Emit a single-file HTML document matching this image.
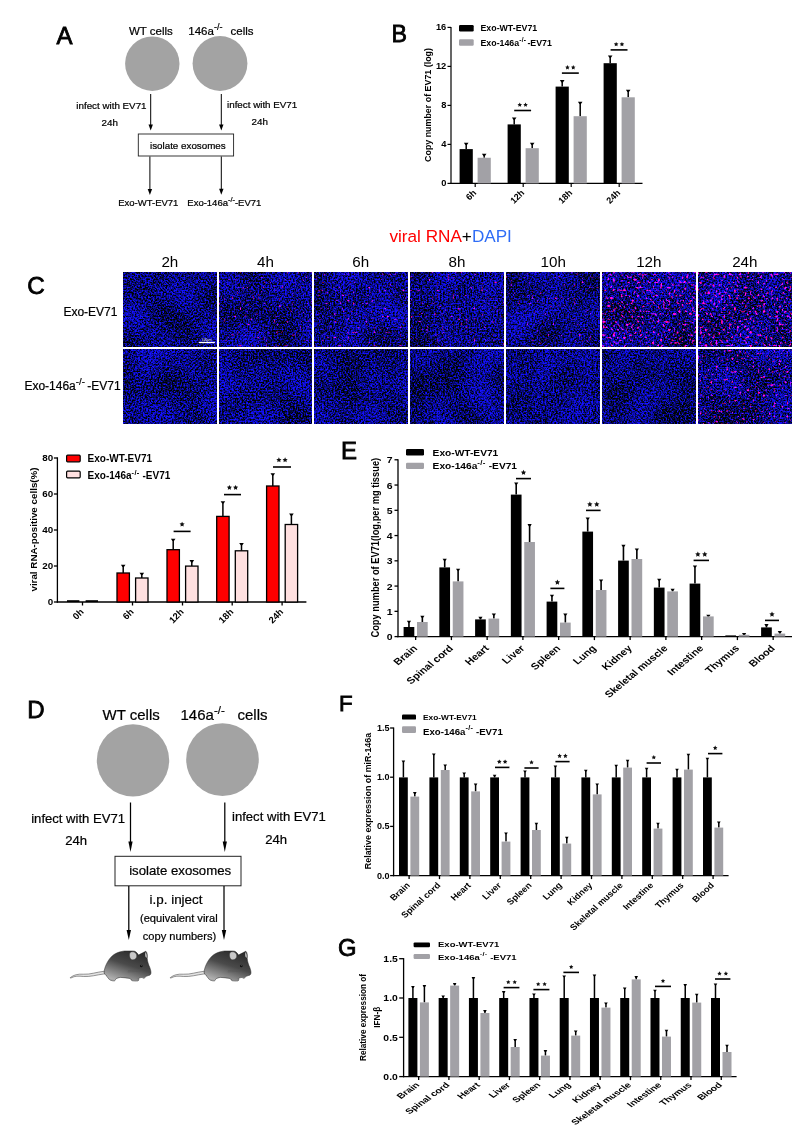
<!DOCTYPE html>
<html><head><meta charset="utf-8"><title>Figure</title>
<style>
html,body{margin:0;padding:0;background:#fff;}
body{width:800px;height:1131px;position:relative;overflow:hidden;font-family:"Liberation Sans", Arial, sans-serif;}
</style></head><body>
<svg width="800" height="1131" viewBox="0 0 800 1131" style="position:absolute;left:0;top:0;will-change:transform" font-family='"Liberation Sans", Arial, sans-serif'>
<text x="56.40" y="43.50" font-size="24" stroke="#000" stroke-width="0.8">A</text>
<text x="129.00" y="34.50" font-size="11.5" stroke="#000" stroke-width="0.22">WT cells</text>
<text x="188.30" y="34.50" font-size="11.5" stroke="#000" stroke-width="0.22">146a<tspan font-size="9" dy="-4.6">-/-</tspan><tspan dy="4.6" dx="0"></tspan></text>
<text x="230.50" y="34.50" font-size="11.5" stroke="#000" stroke-width="0.22">cells</text>
<circle cx="152.3" cy="63.7" r="27.2" fill="#a3a3a3"/>
<circle cx="220" cy="63.5" r="27.4" fill="#a3a3a3"/>
<line x1="150.70" y1="94.00" x2="150.70" y2="125.60" stroke="#000" stroke-width="1"/>
<path d="M148.50,124.60 L152.90,124.60 L150.70,130.60 Z" fill="#000"/>
<line x1="221.30" y1="94.00" x2="221.30" y2="125.60" stroke="#000" stroke-width="1"/>
<path d="M219.10,124.60 L223.50,124.60 L221.30,130.60 Z" fill="#000"/>
<text x="76.30" y="109.40" font-size="9.8" stroke="#000" stroke-width="0.22">infect with EV71</text>
<text x="101.50" y="126.00" font-size="9.8" stroke="#000" stroke-width="0.22">24h</text>
<text x="227.00" y="107.80" font-size="9.8" stroke="#000" stroke-width="0.22">infect with EV71</text>
<text x="251.50" y="125.00" font-size="9.8" stroke="#000" stroke-width="0.22">24h</text>
<rect x="138.3" y="134" width="95.3" height="22" fill="#fff" stroke="#222" stroke-width="0.9"/>
<text x="150.00" y="148.80" font-size="9.8" stroke="#000" stroke-width="0.22">isolate exosomes</text>
<line x1="149.90" y1="156.50" x2="149.90" y2="189.90" stroke="#000" stroke-width="1"/>
<path d="M147.70,188.90 L152.10,188.90 L149.90,194.90 Z" fill="#000"/>
<line x1="221.30" y1="156.50" x2="221.30" y2="189.70" stroke="#000" stroke-width="1"/>
<path d="M219.10,188.70 L223.50,188.70 L221.30,194.70 Z" fill="#000"/>
<text x="118.20" y="205.60" font-size="9.5" stroke="#000" stroke-width="0.22">Exo-WT-EV71</text>
<text x="187.30" y="205.60" font-size="9.5" stroke="#000" stroke-width="0.22">Exo-146a<tspan font-size="7.4" dy="-3.8">-/-</tspan><tspan dy="3.8" dx="0">-EV71</tspan></text>
<text x="391.60" y="42.40" font-size="23.2" stroke="#000" stroke-width="0.8">B</text>
<line x1="451.00" y1="27.00" x2="451.00" y2="184.00" stroke="#000" stroke-width="1.2"/>
<line x1="450.40" y1="183.40" x2="642.50" y2="183.40" stroke="#000" stroke-width="1.2"/>
<line x1="447.50" y1="183.40" x2="451.00" y2="183.40" stroke="#000" stroke-width="1.2"/>
<text x="446.30" y="186.00" font-size="9.3" font-weight="bold" text-anchor="end">0</text>
<line x1="447.50" y1="144.40" x2="451.00" y2="144.40" stroke="#000" stroke-width="1.2"/>
<text x="446.30" y="147.00" font-size="9.3" font-weight="bold" text-anchor="end">4</text>
<line x1="447.50" y1="105.40" x2="451.00" y2="105.40" stroke="#000" stroke-width="1.2"/>
<text x="446.30" y="108.00" font-size="9.3" font-weight="bold" text-anchor="end">8</text>
<line x1="447.50" y1="66.40" x2="451.00" y2="66.40" stroke="#000" stroke-width="1.2"/>
<text x="446.30" y="69.00" font-size="9.3" font-weight="bold" text-anchor="end">12</text>
<line x1="447.50" y1="27.40" x2="451.00" y2="27.40" stroke="#000" stroke-width="1.2"/>
<text x="446.30" y="30.00" font-size="9.3" font-weight="bold" text-anchor="end">16</text>
<rect x="459.00" y="25.00" width="14.70" height="6.50" fill="#000" rx="1.2"/>
<rect x="459.00" y="39.30" width="14.70" height="6.50" fill="#a2a1a6" rx="1.2"/>
<text x="480.50" y="31.40" font-size="8.8" font-weight="bold">Exo-WT-EV71</text>
<text x="480.50" y="45.80" font-size="8.8" font-weight="bold">Exo-146a<tspan font-size="6.6" dy="-3.8" letter-spacing="0.3">-/-</tspan><tspan dy="3.8" dx="-1.3"> -EV71</tspan></text>
<text x="0.00" y="0.00" font-size="8.9" font-weight="bold" text-anchor="middle" transform="translate(430.9,105) rotate(-90)">Copy number of EV71 (log)</text>
<line x1="466.20" y1="149.10" x2="466.20" y2="143.70" stroke="#000" stroke-width="1.5"/>
<path d="M463.90,142.80 L468.50,142.80 L466.95,145.10 L465.45,145.10 Z" fill="#000"/>
<line x1="484.20" y1="157.75" x2="484.20" y2="154.60" stroke="#000" stroke-width="1.5"/>
<path d="M481.90,153.70 L486.50,153.70 L484.95,156.00 L483.45,156.00 Z" fill="#000"/>
<rect x="459.60" y="149.10" width="13.20" height="34.30" fill="#000"/>
<rect x="477.60" y="157.75" width="13.20" height="25.65" fill="#a2a1a6"/>
<line x1="475.20" y1="183.40" x2="475.20" y2="186.90" stroke="#000" stroke-width="1.2"/>
<text x="0.00" y="0.00" font-size="9" font-weight="bold" text-anchor="end" transform="translate(477.00,193.40) rotate(-45)">6h</text>
<line x1="514.20" y1="124.40" x2="514.20" y2="118.40" stroke="#000" stroke-width="1.5"/>
<path d="M511.90,117.50 L516.50,117.50 L514.95,119.80 L513.45,119.80 Z" fill="#000"/>
<line x1="532.20" y1="148.20" x2="532.20" y2="143.70" stroke="#000" stroke-width="1.5"/>
<path d="M529.90,142.80 L534.50,142.80 L532.95,145.10 L531.45,145.10 Z" fill="#000"/>
<rect x="507.60" y="124.40" width="13.20" height="59.00" fill="#000"/>
<rect x="525.60" y="148.20" width="13.20" height="35.20" fill="#a2a1a6"/>
<line x1="523.20" y1="183.40" x2="523.20" y2="186.90" stroke="#000" stroke-width="1.2"/>
<text x="0.00" y="0.00" font-size="9" font-weight="bold" text-anchor="end" transform="translate(525.00,193.40) rotate(-45)">12h</text>
<line x1="562.20" y1="86.60" x2="562.20" y2="81.00" stroke="#000" stroke-width="1.5"/>
<path d="M559.90,80.10 L564.50,80.10 L562.95,82.40 L561.45,82.40 Z" fill="#000"/>
<line x1="580.20" y1="116.20" x2="580.20" y2="102.60" stroke="#000" stroke-width="1.5"/>
<path d="M577.90,101.70 L582.50,101.70 L580.95,104.00 L579.45,104.00 Z" fill="#000"/>
<rect x="555.60" y="86.60" width="13.20" height="96.80" fill="#000"/>
<rect x="573.60" y="116.20" width="13.20" height="67.20" fill="#a2a1a6"/>
<line x1="571.20" y1="183.40" x2="571.20" y2="186.90" stroke="#000" stroke-width="1.2"/>
<text x="0.00" y="0.00" font-size="9" font-weight="bold" text-anchor="end" transform="translate(573.00,193.40) rotate(-45)">18h</text>
<line x1="610.20" y1="63.20" x2="610.20" y2="56.30" stroke="#000" stroke-width="1.5"/>
<path d="M607.90,55.40 L612.50,55.40 L610.95,57.70 L609.45,57.70 Z" fill="#000"/>
<line x1="628.20" y1="97.30" x2="628.20" y2="90.60" stroke="#000" stroke-width="1.5"/>
<path d="M625.90,89.70 L630.50,89.70 L628.95,92.00 L627.45,92.00 Z" fill="#000"/>
<rect x="603.60" y="63.20" width="13.20" height="120.20" fill="#000"/>
<rect x="621.60" y="97.30" width="13.20" height="86.10" fill="#a2a1a6"/>
<line x1="619.20" y1="183.40" x2="619.20" y2="186.90" stroke="#000" stroke-width="1.2"/>
<text x="0.00" y="0.00" font-size="9" font-weight="bold" text-anchor="end" transform="translate(621.00,193.40) rotate(-45)">24h</text>
<line x1="514.20" y1="110.50" x2="531.10" y2="110.50" stroke="#000" stroke-width="1.6"/>
<polygon points="519.75,102.50 520.46,103.93 522.03,104.16 520.89,105.27 521.16,106.84 519.75,106.10 518.34,106.84 518.61,105.27 517.47,104.16 519.04,103.93" fill="#111"/>
<polygon points="525.55,102.50 526.26,103.93 527.83,104.16 526.69,105.27 526.96,106.84 525.55,106.10 524.14,106.84 524.41,105.27 523.27,104.16 524.84,103.93" fill="#111"/>
<line x1="561.90" y1="73.10" x2="578.80" y2="73.10" stroke="#000" stroke-width="1.6"/>
<polygon points="567.45,65.10 568.16,66.53 569.73,66.76 568.59,67.87 568.86,69.44 567.45,68.70 566.04,69.44 566.31,67.87 565.17,66.76 566.74,66.53" fill="#111"/>
<polygon points="573.25,65.10 573.96,66.53 575.53,66.76 574.39,67.87 574.66,69.44 573.25,68.70 571.84,69.44 572.11,67.87 570.97,66.76 572.54,66.53" fill="#111"/>
<line x1="610.60" y1="49.90" x2="627.50" y2="49.90" stroke="#000" stroke-width="1.6"/>
<polygon points="616.15,41.90 616.86,43.33 618.43,43.56 617.29,44.67 617.56,46.24 616.15,45.50 614.74,46.24 615.01,44.67 613.87,43.56 615.44,43.33" fill="#111"/>
<polygon points="621.95,41.90 622.66,43.33 624.23,43.56 623.09,44.67 623.36,46.24 621.95,45.50 620.54,46.24 620.81,44.67 619.67,43.56 621.24,43.33" fill="#111"/>
<text x="0.00" y="0.00" font-size="15.6" transform="translate(389.5,241.9) scale(1.1,1)" stroke="none"><tspan fill="#ff0000">viral RNA</tspan><tspan fill="#000">+</tspan><tspan fill="#2f6df6">DAPI</tspan></text>
<text x="27.20" y="294.00" font-size="24.3" stroke="#000" stroke-width="0.8">C</text>
<text x="63.40" y="316.00" font-size="12" stroke="#000" stroke-width="0.22">Exo-EV71</text>
<text x="24.40" y="390.20" font-size="12" stroke="#000" stroke-width="0.22">Exo-146a<tspan font-size="9.6" dy="-5.2">-/-</tspan><tspan dy="5.2" dx="-0.8"> -EV71</tspan></text>
<defs>
<filter id="m00" x="0" y="0" width="1" height="1" color-interpolation-filters="sRGB"><feTurbulence type="fractalNoise" baseFrequency="0.62" numOctaves="2" seed="7" result="n"/><feColorMatrix in="n" type="matrix" values="1 0 0 0 0  0 0 0 0 0  0 0 0 0 0  0 0 0 0 1" result="n1"/><feTurbulence type="fractalNoise" baseFrequency="0.03" numOctaves="1" seed="107" result="lo"/><feColorMatrix in="lo" type="matrix" values="1 0 0 0 0  0 0 0 0 0  0 0 0 0 0  0 0 0 0 1" result="lo1"/><feComposite in="n1" in2="lo1" operator="arithmetic" k1="0" k2="1" k3="0.3" k4="-0.15" result="c"/><feColorMatrix in="c" type="matrix" values="0.217 0 0 0 -0.076  0.124 0 0 0 -0.023  3.1 0 0 0 -1.085  0 0 0 0 1" result="bl"/><feTurbulence type="fractalNoise" baseFrequency="0.38" numOctaves="1" seed="207" result="rn"/><feColorMatrix in="rn" type="matrix" values="6.0 0 0 0 -4.800  0 0 0 0 0  3.000 0 0 0 -2.400  0 0 0 0 1" result="rd"/><feGaussianBlur in="rd" stdDeviation="0.5" result="rdb"/><feComposite in="bl" in2="rdb" operator="arithmetic" k1="0" k2="1" k3="1.15" k4="0" result="col"/><feGaussianBlur in="col" stdDeviation="0.55"/></filter>
<filter id="m01" x="0" y="0" width="1" height="1" color-interpolation-filters="sRGB"><feTurbulence type="fractalNoise" baseFrequency="0.62" numOctaves="2" seed="10" result="n"/><feColorMatrix in="n" type="matrix" values="1 0 0 0 0  0 0 0 0 0  0 0 0 0 0  0 0 0 0 1" result="n1"/><feTurbulence type="fractalNoise" baseFrequency="0.03" numOctaves="1" seed="110" result="lo"/><feColorMatrix in="lo" type="matrix" values="1 0 0 0 0  0 0 0 0 0  0 0 0 0 0  0 0 0 0 1" result="lo1"/><feComposite in="n1" in2="lo1" operator="arithmetic" k1="0" k2="1" k3="0.3" k4="-0.15" result="c"/><feColorMatrix in="c" type="matrix" values="0.217 0 0 0 -0.076  0.124 0 0 0 -0.023  3.1 0 0 0 -1.085  0 0 0 0 1" result="bl"/><feTurbulence type="fractalNoise" baseFrequency="0.38" numOctaves="1" seed="210" result="rn"/><feColorMatrix in="rn" type="matrix" values="6.0 0 0 0 -3.990  0 0 0 0 0  3.000 0 0 0 -1.995  0 0 0 0 1" result="rd"/><feGaussianBlur in="rd" stdDeviation="0.5" result="rdb"/><feComposite in="bl" in2="rdb" operator="arithmetic" k1="0" k2="1" k3="1.15" k4="0" result="col"/><feGaussianBlur in="col" stdDeviation="0.55"/></filter>
<filter id="m02" x="0" y="0" width="1" height="1" color-interpolation-filters="sRGB"><feTurbulence type="fractalNoise" baseFrequency="0.62" numOctaves="2" seed="13" result="n"/><feColorMatrix in="n" type="matrix" values="1 0 0 0 0  0 0 0 0 0  0 0 0 0 0  0 0 0 0 1" result="n1"/><feTurbulence type="fractalNoise" baseFrequency="0.03" numOctaves="1" seed="113" result="lo"/><feColorMatrix in="lo" type="matrix" values="1 0 0 0 0  0 0 0 0 0  0 0 0 0 0  0 0 0 0 1" result="lo1"/><feComposite in="n1" in2="lo1" operator="arithmetic" k1="0" k2="1" k3="0.3" k4="-0.15" result="c"/><feColorMatrix in="c" type="matrix" values="0.217 0 0 0 -0.076  0.124 0 0 0 -0.023  3.1 0 0 0 -1.085  0 0 0 0 1" result="bl"/><feTurbulence type="fractalNoise" baseFrequency="0.38" numOctaves="1" seed="213" result="rn"/><feColorMatrix in="rn" type="matrix" values="6.0 0 0 0 -3.990  0 0 0 0 0  3.000 0 0 0 -1.995  0 0 0 0 1" result="rd"/><feGaussianBlur in="rd" stdDeviation="0.5" result="rdb"/><feComposite in="bl" in2="rdb" operator="arithmetic" k1="0" k2="1" k3="1.15" k4="0" result="col"/><feGaussianBlur in="col" stdDeviation="0.55"/></filter>
<filter id="m03" x="0" y="0" width="1" height="1" color-interpolation-filters="sRGB"><feTurbulence type="fractalNoise" baseFrequency="0.62" numOctaves="2" seed="16" result="n"/><feColorMatrix in="n" type="matrix" values="1 0 0 0 0  0 0 0 0 0  0 0 0 0 0  0 0 0 0 1" result="n1"/><feTurbulence type="fractalNoise" baseFrequency="0.03" numOctaves="1" seed="116" result="lo"/><feColorMatrix in="lo" type="matrix" values="1 0 0 0 0  0 0 0 0 0  0 0 0 0 0  0 0 0 0 1" result="lo1"/><feComposite in="n1" in2="lo1" operator="arithmetic" k1="0" k2="1" k3="0.3" k4="-0.15" result="c"/><feColorMatrix in="c" type="matrix" values="0.217 0 0 0 -0.076  0.124 0 0 0 -0.023  3.1 0 0 0 -1.085  0 0 0 0 1" result="bl"/><feTurbulence type="fractalNoise" baseFrequency="0.38" numOctaves="1" seed="216" result="rn"/><feColorMatrix in="rn" type="matrix" values="6.0 0 0 0 -3.990  0 0 0 0 0  3.000 0 0 0 -1.995  0 0 0 0 1" result="rd"/><feGaussianBlur in="rd" stdDeviation="0.5" result="rdb"/><feComposite in="bl" in2="rdb" operator="arithmetic" k1="0" k2="1" k3="1.15" k4="0" result="col"/><feGaussianBlur in="col" stdDeviation="0.55"/></filter>
<filter id="m04" x="0" y="0" width="1" height="1" color-interpolation-filters="sRGB"><feTurbulence type="fractalNoise" baseFrequency="0.62" numOctaves="2" seed="19" result="n"/><feColorMatrix in="n" type="matrix" values="1 0 0 0 0  0 0 0 0 0  0 0 0 0 0  0 0 0 0 1" result="n1"/><feTurbulence type="fractalNoise" baseFrequency="0.03" numOctaves="1" seed="119" result="lo"/><feColorMatrix in="lo" type="matrix" values="1 0 0 0 0  0 0 0 0 0  0 0 0 0 0  0 0 0 0 1" result="lo1"/><feComposite in="n1" in2="lo1" operator="arithmetic" k1="0" k2="1" k3="0.3" k4="-0.15" result="c"/><feColorMatrix in="c" type="matrix" values="0.217 0 0 0 -0.076  0.124 0 0 0 -0.023  3.1 0 0 0 -1.085  0 0 0 0 1" result="bl"/><feTurbulence type="fractalNoise" baseFrequency="0.38" numOctaves="1" seed="219" result="rn"/><feColorMatrix in="rn" type="matrix" values="6.0 0 0 0 -3.990  0 0 0 0 0  3.000 0 0 0 -1.995  0 0 0 0 1" result="rd"/><feGaussianBlur in="rd" stdDeviation="0.5" result="rdb"/><feComposite in="bl" in2="rdb" operator="arithmetic" k1="0" k2="1" k3="1.15" k4="0" result="col"/><feGaussianBlur in="col" stdDeviation="0.55"/></filter>
<filter id="m05" x="0" y="0" width="1" height="1" color-interpolation-filters="sRGB"><feTurbulence type="fractalNoise" baseFrequency="0.62" numOctaves="2" seed="22" result="n"/><feColorMatrix in="n" type="matrix" values="1 0 0 0 0  0 0 0 0 0  0 0 0 0 0  0 0 0 0 1" result="n1"/><feTurbulence type="fractalNoise" baseFrequency="0.03" numOctaves="1" seed="122" result="lo"/><feColorMatrix in="lo" type="matrix" values="1 0 0 0 0  0 0 0 0 0  0 0 0 0 0  0 0 0 0 1" result="lo1"/><feComposite in="n1" in2="lo1" operator="arithmetic" k1="0" k2="1" k3="0.3" k4="-0.15" result="c"/><feColorMatrix in="c" type="matrix" values="0.217 0 0 0 -0.076  0.124 0 0 0 -0.023  3.1 0 0 0 -1.085  0 0 0 0 1" result="bl"/><feTurbulence type="fractalNoise" baseFrequency="0.38" numOctaves="1" seed="222" result="rn"/><feColorMatrix in="rn" type="matrix" values="6.0 0 0 0 -3.480  0 0 0 0 0  3.000 0 0 0 -1.740  0 0 0 0 1" result="rd"/><feGaussianBlur in="rd" stdDeviation="0.5" result="rdb"/><feComposite in="bl" in2="rdb" operator="arithmetic" k1="0" k2="1" k3="1.15" k4="0" result="col"/><feGaussianBlur in="col" stdDeviation="0.55"/></filter>
<filter id="m06" x="0" y="0" width="1" height="1" color-interpolation-filters="sRGB"><feTurbulence type="fractalNoise" baseFrequency="0.62" numOctaves="2" seed="25" result="n"/><feColorMatrix in="n" type="matrix" values="1 0 0 0 0  0 0 0 0 0  0 0 0 0 0  0 0 0 0 1" result="n1"/><feTurbulence type="fractalNoise" baseFrequency="0.03" numOctaves="1" seed="125" result="lo"/><feColorMatrix in="lo" type="matrix" values="1 0 0 0 0  0 0 0 0 0  0 0 0 0 0  0 0 0 0 1" result="lo1"/><feComposite in="n1" in2="lo1" operator="arithmetic" k1="0" k2="1" k3="0.3" k4="-0.15" result="c"/><feColorMatrix in="c" type="matrix" values="0.217 0 0 0 -0.076  0.124 0 0 0 -0.023  3.1 0 0 0 -1.085  0 0 0 0 1" result="bl"/><feTurbulence type="fractalNoise" baseFrequency="0.38" numOctaves="1" seed="225" result="rn"/><feColorMatrix in="rn" type="matrix" values="6.0 0 0 0 -3.480  0 0 0 0 0  3.000 0 0 0 -1.740  0 0 0 0 1" result="rd"/><feGaussianBlur in="rd" stdDeviation="0.5" result="rdb"/><feComposite in="bl" in2="rdb" operator="arithmetic" k1="0" k2="1" k3="1.15" k4="0" result="col"/><feGaussianBlur in="col" stdDeviation="0.55"/></filter>
<filter id="m10" x="0" y="0" width="1" height="1" color-interpolation-filters="sRGB"><feTurbulence type="fractalNoise" baseFrequency="0.62" numOctaves="2" seed="20" result="n"/><feColorMatrix in="n" type="matrix" values="1 0 0 0 0  0 0 0 0 0  0 0 0 0 0  0 0 0 0 1" result="n1"/><feTurbulence type="fractalNoise" baseFrequency="0.03" numOctaves="1" seed="120" result="lo"/><feColorMatrix in="lo" type="matrix" values="1 0 0 0 0  0 0 0 0 0  0 0 0 0 0  0 0 0 0 1" result="lo1"/><feComposite in="n1" in2="lo1" operator="arithmetic" k1="0" k2="1" k3="0.3" k4="-0.15" result="c"/><feColorMatrix in="c" type="matrix" values="0.217 0 0 0 -0.076  0.124 0 0 0 -0.023  3.1 0 0 0 -1.085  0 0 0 0 1" result="bl"/><feTurbulence type="fractalNoise" baseFrequency="0.38" numOctaves="1" seed="220" result="rn"/><feColorMatrix in="rn" type="matrix" values="6.0 0 0 0 -4.800  0 0 0 0 0  3.000 0 0 0 -2.400  0 0 0 0 1" result="rd"/><feGaussianBlur in="rd" stdDeviation="0.5" result="rdb"/><feComposite in="bl" in2="rdb" operator="arithmetic" k1="0" k2="1" k3="1.15" k4="0" result="col"/><feGaussianBlur in="col" stdDeviation="0.55"/></filter>
<filter id="m11" x="0" y="0" width="1" height="1" color-interpolation-filters="sRGB"><feTurbulence type="fractalNoise" baseFrequency="0.62" numOctaves="2" seed="23" result="n"/><feColorMatrix in="n" type="matrix" values="1 0 0 0 0  0 0 0 0 0  0 0 0 0 0  0 0 0 0 1" result="n1"/><feTurbulence type="fractalNoise" baseFrequency="0.03" numOctaves="1" seed="123" result="lo"/><feColorMatrix in="lo" type="matrix" values="1 0 0 0 0  0 0 0 0 0  0 0 0 0 0  0 0 0 0 1" result="lo1"/><feComposite in="n1" in2="lo1" operator="arithmetic" k1="0" k2="1" k3="0.3" k4="-0.15" result="c"/><feColorMatrix in="c" type="matrix" values="0.217 0 0 0 -0.076  0.124 0 0 0 -0.023  3.1 0 0 0 -1.085  0 0 0 0 1" result="bl"/><feTurbulence type="fractalNoise" baseFrequency="0.38" numOctaves="1" seed="223" result="rn"/><feColorMatrix in="rn" type="matrix" values="6.0 0 0 0 -4.800  0 0 0 0 0  3.000 0 0 0 -2.400  0 0 0 0 1" result="rd"/><feGaussianBlur in="rd" stdDeviation="0.5" result="rdb"/><feComposite in="bl" in2="rdb" operator="arithmetic" k1="0" k2="1" k3="1.15" k4="0" result="col"/><feGaussianBlur in="col" stdDeviation="0.55"/></filter>
<filter id="m12" x="0" y="0" width="1" height="1" color-interpolation-filters="sRGB"><feTurbulence type="fractalNoise" baseFrequency="0.62" numOctaves="2" seed="26" result="n"/><feColorMatrix in="n" type="matrix" values="1 0 0 0 0  0 0 0 0 0  0 0 0 0 0  0 0 0 0 1" result="n1"/><feTurbulence type="fractalNoise" baseFrequency="0.03" numOctaves="1" seed="126" result="lo"/><feColorMatrix in="lo" type="matrix" values="1 0 0 0 0  0 0 0 0 0  0 0 0 0 0  0 0 0 0 1" result="lo1"/><feComposite in="n1" in2="lo1" operator="arithmetic" k1="0" k2="1" k3="0.3" k4="-0.15" result="c"/><feColorMatrix in="c" type="matrix" values="0.217 0 0 0 -0.076  0.124 0 0 0 -0.023  3.1 0 0 0 -1.085  0 0 0 0 1" result="bl"/><feTurbulence type="fractalNoise" baseFrequency="0.38" numOctaves="1" seed="226" result="rn"/><feColorMatrix in="rn" type="matrix" values="6.0 0 0 0 -4.800  0 0 0 0 0  3.000 0 0 0 -2.400  0 0 0 0 1" result="rd"/><feGaussianBlur in="rd" stdDeviation="0.5" result="rdb"/><feComposite in="bl" in2="rdb" operator="arithmetic" k1="0" k2="1" k3="1.15" k4="0" result="col"/><feGaussianBlur in="col" stdDeviation="0.55"/></filter>
<filter id="m13" x="0" y="0" width="1" height="1" color-interpolation-filters="sRGB"><feTurbulence type="fractalNoise" baseFrequency="0.62" numOctaves="2" seed="29" result="n"/><feColorMatrix in="n" type="matrix" values="1 0 0 0 0  0 0 0 0 0  0 0 0 0 0  0 0 0 0 1" result="n1"/><feTurbulence type="fractalNoise" baseFrequency="0.03" numOctaves="1" seed="129" result="lo"/><feColorMatrix in="lo" type="matrix" values="1 0 0 0 0  0 0 0 0 0  0 0 0 0 0  0 0 0 0 1" result="lo1"/><feComposite in="n1" in2="lo1" operator="arithmetic" k1="0" k2="1" k3="0.3" k4="-0.15" result="c"/><feColorMatrix in="c" type="matrix" values="0.217 0 0 0 -0.076  0.124 0 0 0 -0.023  3.1 0 0 0 -1.085  0 0 0 0 1" result="bl"/><feTurbulence type="fractalNoise" baseFrequency="0.38" numOctaves="1" seed="229" result="rn"/><feColorMatrix in="rn" type="matrix" values="6.0 0 0 0 -4.800  0 0 0 0 0  3.000 0 0 0 -2.400  0 0 0 0 1" result="rd"/><feGaussianBlur in="rd" stdDeviation="0.5" result="rdb"/><feComposite in="bl" in2="rdb" operator="arithmetic" k1="0" k2="1" k3="1.15" k4="0" result="col"/><feGaussianBlur in="col" stdDeviation="0.55"/></filter>
<filter id="m14" x="0" y="0" width="1" height="1" color-interpolation-filters="sRGB"><feTurbulence type="fractalNoise" baseFrequency="0.62" numOctaves="2" seed="32" result="n"/><feColorMatrix in="n" type="matrix" values="1 0 0 0 0  0 0 0 0 0  0 0 0 0 0  0 0 0 0 1" result="n1"/><feTurbulence type="fractalNoise" baseFrequency="0.03" numOctaves="1" seed="132" result="lo"/><feColorMatrix in="lo" type="matrix" values="1 0 0 0 0  0 0 0 0 0  0 0 0 0 0  0 0 0 0 1" result="lo1"/><feComposite in="n1" in2="lo1" operator="arithmetic" k1="0" k2="1" k3="0.3" k4="-0.15" result="c"/><feColorMatrix in="c" type="matrix" values="0.217 0 0 0 -0.076  0.124 0 0 0 -0.023  3.1 0 0 0 -1.085  0 0 0 0 1" result="bl"/><feTurbulence type="fractalNoise" baseFrequency="0.38" numOctaves="1" seed="232" result="rn"/><feColorMatrix in="rn" type="matrix" values="6.0 0 0 0 -4.800  0 0 0 0 0  3.000 0 0 0 -2.400  0 0 0 0 1" result="rd"/><feGaussianBlur in="rd" stdDeviation="0.5" result="rdb"/><feComposite in="bl" in2="rdb" operator="arithmetic" k1="0" k2="1" k3="1.15" k4="0" result="col"/><feGaussianBlur in="col" stdDeviation="0.55"/></filter>
<filter id="m15" x="0" y="0" width="1" height="1" color-interpolation-filters="sRGB"><feTurbulence type="fractalNoise" baseFrequency="0.62" numOctaves="2" seed="35" result="n"/><feColorMatrix in="n" type="matrix" values="1 0 0 0 0  0 0 0 0 0  0 0 0 0 0  0 0 0 0 1" result="n1"/><feTurbulence type="fractalNoise" baseFrequency="0.03" numOctaves="1" seed="135" result="lo"/><feColorMatrix in="lo" type="matrix" values="1 0 0 0 0  0 0 0 0 0  0 0 0 0 0  0 0 0 0 1" result="lo1"/><feComposite in="n1" in2="lo1" operator="arithmetic" k1="0" k2="1" k3="0.3" k4="-0.15" result="c"/><feColorMatrix in="c" type="matrix" values="0.217 0 0 0 -0.076  0.124 0 0 0 -0.023  3.1 0 0 0 -1.085  0 0 0 0 1" result="bl"/><feTurbulence type="fractalNoise" baseFrequency="0.38" numOctaves="1" seed="235" result="rn"/><feColorMatrix in="rn" type="matrix" values="6.0 0 0 0 -4.800  0 0 0 0 0  3.000 0 0 0 -2.400  0 0 0 0 1" result="rd"/><feGaussianBlur in="rd" stdDeviation="0.5" result="rdb"/><feComposite in="bl" in2="rdb" operator="arithmetic" k1="0" k2="1" k3="1.15" k4="0" result="col"/><feGaussianBlur in="col" stdDeviation="0.55"/></filter>
<filter id="m16" x="0" y="0" width="1" height="1" color-interpolation-filters="sRGB"><feTurbulence type="fractalNoise" baseFrequency="0.62" numOctaves="2" seed="38" result="n"/><feColorMatrix in="n" type="matrix" values="1 0 0 0 0  0 0 0 0 0  0 0 0 0 0  0 0 0 0 1" result="n1"/><feTurbulence type="fractalNoise" baseFrequency="0.03" numOctaves="1" seed="138" result="lo"/><feColorMatrix in="lo" type="matrix" values="1 0 0 0 0  0 0 0 0 0  0 0 0 0 0  0 0 0 0 1" result="lo1"/><feComposite in="n1" in2="lo1" operator="arithmetic" k1="0" k2="1" k3="0.3" k4="-0.15" result="c"/><feColorMatrix in="c" type="matrix" values="0.217 0 0 0 -0.076  0.124 0 0 0 -0.023  3.1 0 0 0 -1.085  0 0 0 0 1" result="bl"/><feTurbulence type="fractalNoise" baseFrequency="0.38" numOctaves="1" seed="238" result="rn"/><feColorMatrix in="rn" type="matrix" values="6.0 0 0 0 -3.750  0 0 0 0 0  3.000 0 0 0 -1.875  0 0 0 0 1" result="rd"/><feGaussianBlur in="rd" stdDeviation="0.5" result="rdb"/><feComposite in="bl" in2="rdb" operator="arithmetic" k1="0" k2="1" k3="1.15" k4="0" result="col"/><feGaussianBlur in="col" stdDeviation="0.55"/></filter>
</defs>
<text x="169.88" y="267.30" font-size="15.2" text-anchor="middle" stroke="none">2h</text>
<rect x="123.50" y="272" width="92.75" height="74.25" fill="#0000c0" filter="url(#m00)"/>
<rect x="123.50" y="349.6" width="92.75" height="74.2" fill="#0000c0" filter="url(#m10)"/>
<text x="265.43" y="267.30" font-size="15.2" text-anchor="middle" stroke="none">4h</text>
<rect x="219.06" y="272" width="92.74" height="74.25" fill="#0000c0" filter="url(#m01)"/>
<rect x="219.06" y="349.6" width="92.74" height="74.2" fill="#0000c0" filter="url(#m11)"/>
<text x="360.70" y="267.30" font-size="15.2" text-anchor="middle" stroke="none">6h</text>
<rect x="314.20" y="272" width="93.00" height="74.25" fill="#0000c0" filter="url(#m02)"/>
<rect x="314.20" y="349.6" width="93.00" height="74.2" fill="#0000c0" filter="url(#m12)"/>
<text x="456.95" y="267.30" font-size="15.2" text-anchor="middle" stroke="none">8h</text>
<rect x="410.40" y="272" width="93.10" height="74.25" fill="#0000c0" filter="url(#m03)"/>
<rect x="410.40" y="349.6" width="93.10" height="74.2" fill="#0000c0" filter="url(#m13)"/>
<text x="553.25" y="267.30" font-size="15.2" text-anchor="middle" stroke="none">10h</text>
<rect x="506.50" y="272" width="93.50" height="74.25" fill="#0000c0" filter="url(#m04)"/>
<rect x="506.50" y="349.6" width="93.50" height="74.2" fill="#0000c0" filter="url(#m14)"/>
<text x="648.85" y="267.30" font-size="15.2" text-anchor="middle" stroke="none">12h</text>
<rect x="602.40" y="272" width="92.90" height="74.25" fill="#0000c0" filter="url(#m05)"/>
<rect x="602.40" y="349.6" width="92.90" height="74.2" fill="#0000c0" filter="url(#m15)"/>
<text x="744.80" y="267.30" font-size="15.2" text-anchor="middle" stroke="none">24h</text>
<rect x="698.10" y="272" width="93.40" height="74.25" fill="#0000c0" filter="url(#m06)"/>
<rect x="698.10" y="349.6" width="93.40" height="74.2" fill="#0000c0" filter="url(#m16)"/>
<line x1="198.80" y1="342.50" x2="214.90" y2="342.50" stroke="#fff" stroke-width="1.3"/>
<text x="206.80" y="340.60" font-size="3.2" text-anchor="middle" fill="#e8e8e8" stroke="none">100μm</text>
<line x1="57.40" y1="457.30" x2="57.40" y2="602.60" stroke="#000" stroke-width="1.3"/>
<line x1="56.80" y1="602.00" x2="306.40" y2="602.00" stroke="#000" stroke-width="1.3"/>
<line x1="53.90" y1="602.00" x2="57.40" y2="602.00" stroke="#000" stroke-width="1.3"/>
<text x="53.20" y="605.10" font-size="9.8" font-weight="bold" text-anchor="end">0</text>
<line x1="53.90" y1="566.00" x2="57.40" y2="566.00" stroke="#000" stroke-width="1.3"/>
<text x="53.20" y="569.10" font-size="9.8" font-weight="bold" text-anchor="end">20</text>
<line x1="53.90" y1="530.00" x2="57.40" y2="530.00" stroke="#000" stroke-width="1.3"/>
<text x="53.20" y="533.10" font-size="9.8" font-weight="bold" text-anchor="end">40</text>
<line x1="53.90" y1="494.00" x2="57.40" y2="494.00" stroke="#000" stroke-width="1.3"/>
<text x="53.20" y="497.10" font-size="9.8" font-weight="bold" text-anchor="end">60</text>
<line x1="53.90" y1="458.00" x2="57.40" y2="458.00" stroke="#000" stroke-width="1.3"/>
<text x="53.20" y="461.10" font-size="9.8" font-weight="bold" text-anchor="end">80</text>
<rect x="66.60" y="455.20" width="13.60" height="6.60" fill="#ff0000" stroke="#000" stroke-width="1.2" rx="1"/>
<rect x="66.60" y="471.20" width="13.60" height="6.60" fill="#ffe0e0" stroke="#000" stroke-width="1.2" rx="1"/>
<text x="87.60" y="462.00" font-size="10" font-weight="bold">Exo-WT-EV71</text>
<text x="87.60" y="478.80" font-size="10" font-weight="bold">Exo-146a<tspan font-size="7.4" dy="-4.3" letter-spacing="0.4">-/-</tspan><tspan dy="4.3" dx="0"> -EV71</tspan></text>
<text x="0.00" y="0.00" font-size="9.8" font-weight="bold" text-anchor="middle" transform="translate(37.3,529.5) rotate(-90)">viral RNA-positive cells(%)</text>
<line x1="67.00" y1="601.10" x2="79.40" y2="601.10" stroke="#000" stroke-width="1.8"/>
<line x1="85.60" y1="601.10" x2="98.00" y2="601.10" stroke="#000" stroke-width="1.8"/>
<line x1="82.50" y1="602.00" x2="82.50" y2="605.50" stroke="#000" stroke-width="1.3"/>
<text x="0.00" y="0.00" font-size="9.4" font-weight="bold" text-anchor="end" transform="translate(84.30,612.50) rotate(-45)">0h</text>
<line x1="123.20" y1="573.00" x2="123.20" y2="565.60" stroke="#000" stroke-width="1.5"/>
<path d="M120.90,564.70 L125.50,564.70 L123.95,567.00 L122.45,567.00 Z" fill="#000"/>
<line x1="141.80" y1="578.00" x2="141.80" y2="573.60" stroke="#000" stroke-width="1.5"/>
<path d="M139.50,572.70 L144.10,572.70 L142.55,575.00 L141.05,575.00 Z" fill="#000"/>
<rect x="117.00" y="573.00" width="12.40" height="29.00" fill="#ff0000" stroke="#000" stroke-width="1.3"/>
<rect x="135.60" y="578.00" width="12.40" height="24.00" fill="#ffe0e0" stroke="#000" stroke-width="1.3"/>
<line x1="132.50" y1="602.00" x2="132.50" y2="605.50" stroke="#000" stroke-width="1.3"/>
<text x="0.00" y="0.00" font-size="9.4" font-weight="bold" text-anchor="end" transform="translate(134.30,612.50) rotate(-45)">6h</text>
<line x1="173.20" y1="549.70" x2="173.20" y2="539.60" stroke="#000" stroke-width="1.5"/>
<path d="M170.90,538.70 L175.50,538.70 L173.95,541.00 L172.45,541.00 Z" fill="#000"/>
<line x1="191.80" y1="566.10" x2="191.80" y2="561.00" stroke="#000" stroke-width="1.5"/>
<path d="M189.50,560.10 L194.10,560.10 L192.55,562.40 L191.05,562.40 Z" fill="#000"/>
<rect x="167.00" y="549.70" width="12.40" height="52.30" fill="#ff0000" stroke="#000" stroke-width="1.3"/>
<rect x="185.60" y="566.10" width="12.40" height="35.90" fill="#ffe0e0" stroke="#000" stroke-width="1.3"/>
<line x1="182.50" y1="602.00" x2="182.50" y2="605.50" stroke="#000" stroke-width="1.3"/>
<text x="0.00" y="0.00" font-size="9.4" font-weight="bold" text-anchor="end" transform="translate(184.30,612.50) rotate(-45)">12h</text>
<line x1="222.90" y1="516.40" x2="222.90" y2="502.20" stroke="#000" stroke-width="1.5"/>
<path d="M220.60,501.30 L225.20,501.30 L223.65,503.60 L222.15,503.60 Z" fill="#000"/>
<line x1="241.50" y1="550.80" x2="241.50" y2="543.90" stroke="#000" stroke-width="1.5"/>
<path d="M239.20,543.00 L243.80,543.00 L242.25,545.30 L240.75,545.30 Z" fill="#000"/>
<rect x="216.70" y="516.40" width="12.40" height="85.60" fill="#ff0000" stroke="#000" stroke-width="1.3"/>
<rect x="235.30" y="550.80" width="12.40" height="51.20" fill="#ffe0e0" stroke="#000" stroke-width="1.3"/>
<line x1="232.20" y1="602.00" x2="232.20" y2="605.50" stroke="#000" stroke-width="1.3"/>
<text x="0.00" y="0.00" font-size="9.4" font-weight="bold" text-anchor="end" transform="translate(234.00,612.50) rotate(-45)">18h</text>
<line x1="272.80" y1="486.00" x2="272.80" y2="474.20" stroke="#000" stroke-width="1.5"/>
<path d="M270.50,473.30 L275.10,473.30 L273.55,475.60 L272.05,475.60 Z" fill="#000"/>
<line x1="291.40" y1="524.50" x2="291.40" y2="514.40" stroke="#000" stroke-width="1.5"/>
<path d="M289.10,513.50 L293.70,513.50 L292.15,515.80 L290.65,515.80 Z" fill="#000"/>
<rect x="266.60" y="486.00" width="12.40" height="116.00" fill="#ff0000" stroke="#000" stroke-width="1.3"/>
<rect x="285.20" y="524.50" width="12.40" height="77.50" fill="#ffe0e0" stroke="#000" stroke-width="1.3"/>
<line x1="282.10" y1="602.00" x2="282.10" y2="605.50" stroke="#000" stroke-width="1.3"/>
<text x="0.00" y="0.00" font-size="9.4" font-weight="bold" text-anchor="end" transform="translate(283.90,612.50) rotate(-45)">24h</text>
<line x1="173.60" y1="531.40" x2="190.60" y2="531.40" stroke="#000" stroke-width="1.6"/>
<polygon points="182.10,521.70 182.89,523.31 184.67,523.57 183.38,524.82 183.69,526.58 182.10,525.75 180.51,526.58 180.82,524.82 179.53,523.57 181.31,523.31" fill="#111"/>
<line x1="224.00" y1="494.60" x2="241.00" y2="494.60" stroke="#000" stroke-width="1.6"/>
<polygon points="229.40,484.90 230.19,486.51 231.97,486.77 230.68,488.02 230.99,489.78 229.40,488.95 227.81,489.78 228.12,488.02 226.83,486.77 228.61,486.51" fill="#111"/>
<polygon points="235.60,484.90 236.39,486.51 238.17,486.77 236.88,488.02 237.19,489.78 235.60,488.95 234.01,489.78 234.32,488.02 233.03,486.77 234.81,486.51" fill="#111"/>
<line x1="273.00" y1="467.00" x2="291.00" y2="467.00" stroke="#000" stroke-width="1.6"/>
<polygon points="278.90,457.30 279.69,458.91 281.47,459.17 280.18,460.42 280.49,462.18 278.90,461.35 277.31,462.18 277.62,460.42 276.33,459.17 278.11,458.91" fill="#111"/>
<polygon points="285.10,457.30 285.89,458.91 287.67,459.17 286.38,460.42 286.69,462.18 285.10,461.35 283.51,462.18 283.82,460.42 282.53,459.17 284.31,458.91" fill="#111"/>
<text x="341.00" y="459.20" font-size="24" stroke="#000" stroke-width="0.8">E</text>
<line x1="398.00" y1="459.30" x2="398.00" y2="637.20" stroke="#000" stroke-width="1.3"/>
<line x1="397.40" y1="636.60" x2="792.00" y2="636.60" stroke="#000" stroke-width="1.3"/>
<line x1="394.50" y1="636.60" x2="398.00" y2="636.60" stroke="#000" stroke-width="1.3"/>
<text x="0.00" y="0.00" font-size="9.8" font-weight="bold" text-anchor="end" transform="translate(392.70,640.13) scale(1.07,1)">0</text>
<line x1="394.50" y1="611.34" x2="398.00" y2="611.34" stroke="#000" stroke-width="1.3"/>
<text x="0.00" y="0.00" font-size="9.8" font-weight="bold" text-anchor="end" transform="translate(392.70,614.87) scale(1.07,1)">1</text>
<line x1="394.50" y1="586.08" x2="398.00" y2="586.08" stroke="#000" stroke-width="1.3"/>
<text x="0.00" y="0.00" font-size="9.8" font-weight="bold" text-anchor="end" transform="translate(392.70,589.61) scale(1.07,1)">2</text>
<line x1="394.50" y1="560.82" x2="398.00" y2="560.82" stroke="#000" stroke-width="1.3"/>
<text x="0.00" y="0.00" font-size="9.8" font-weight="bold" text-anchor="end" transform="translate(392.70,564.35) scale(1.07,1)">3</text>
<line x1="394.50" y1="535.56" x2="398.00" y2="535.56" stroke="#000" stroke-width="1.3"/>
<text x="0.00" y="0.00" font-size="9.8" font-weight="bold" text-anchor="end" transform="translate(392.70,539.09) scale(1.07,1)">4</text>
<line x1="394.50" y1="510.30" x2="398.00" y2="510.30" stroke="#000" stroke-width="1.3"/>
<text x="0.00" y="0.00" font-size="9.8" font-weight="bold" text-anchor="end" transform="translate(392.70,513.83) scale(1.07,1)">5</text>
<line x1="394.50" y1="485.04" x2="398.00" y2="485.04" stroke="#000" stroke-width="1.3"/>
<text x="0.00" y="0.00" font-size="9.8" font-weight="bold" text-anchor="end" transform="translate(392.70,488.57) scale(1.07,1)">6</text>
<line x1="394.50" y1="459.78" x2="398.00" y2="459.78" stroke="#000" stroke-width="1.3"/>
<text x="0.00" y="0.00" font-size="9.8" font-weight="bold" text-anchor="end" transform="translate(392.70,463.31) scale(1.07,1)">7</text>
<line x1="408.95" y1="627.00" x2="408.95" y2="621.60" stroke="#000" stroke-width="1.6"/>
<path d="M406.85,620.70 L411.05,620.70 L409.75,622.80 L408.15,622.80 Z" fill="#000"/>
<line x1="422.35" y1="622.00" x2="422.35" y2="616.60" stroke="#000" stroke-width="1.6"/>
<path d="M420.25,615.70 L424.45,615.70 L423.15,617.80 L421.55,617.80 Z" fill="#000"/>
<rect x="403.60" y="627.00" width="10.70" height="9.60" fill="#000"/>
<rect x="417.00" y="622.00" width="10.70" height="14.60" fill="#a2a1a6"/>
<line x1="415.65" y1="636.60" x2="415.65" y2="640.10" stroke="#000" stroke-width="1.3"/>
<text x="0.00" y="0.00" font-size="9.3" font-weight="bold" text-anchor="end" transform="translate(418.15,648.90) scale(1.2,1) rotate(-45)">Brain</text>
<line x1="444.70" y1="567.40" x2="444.70" y2="559.60" stroke="#000" stroke-width="1.6"/>
<path d="M442.60,558.70 L446.80,558.70 L445.50,560.80 L443.90,560.80 Z" fill="#000"/>
<line x1="458.10" y1="581.40" x2="458.10" y2="569.60" stroke="#000" stroke-width="1.6"/>
<path d="M456.00,568.70 L460.20,568.70 L458.90,570.80 L457.30,570.80 Z" fill="#000"/>
<rect x="439.35" y="567.40" width="10.70" height="69.20" fill="#000"/>
<rect x="452.75" y="581.40" width="10.70" height="55.20" fill="#a2a1a6"/>
<line x1="451.40" y1="636.60" x2="451.40" y2="640.10" stroke="#000" stroke-width="1.3"/>
<text x="0.00" y="0.00" font-size="9.3" font-weight="bold" text-anchor="end" transform="translate(453.90,648.90) scale(1.2,1) rotate(-45)">Spinal cord</text>
<line x1="480.45" y1="619.40" x2="480.45" y2="617.60" stroke="#000" stroke-width="1.6"/>
<path d="M478.35,616.70 L482.55,616.70 L481.25,618.80 L479.65,618.80 Z" fill="#000"/>
<line x1="493.85" y1="618.60" x2="493.85" y2="614.40" stroke="#000" stroke-width="1.6"/>
<path d="M491.75,613.50 L495.95,613.50 L494.65,615.60 L493.05,615.60 Z" fill="#000"/>
<rect x="475.10" y="619.40" width="10.70" height="17.20" fill="#000"/>
<rect x="488.50" y="618.60" width="10.70" height="18.00" fill="#a2a1a6"/>
<line x1="487.15" y1="636.60" x2="487.15" y2="640.10" stroke="#000" stroke-width="1.3"/>
<text x="0.00" y="0.00" font-size="9.3" font-weight="bold" text-anchor="end" transform="translate(489.65,648.90) scale(1.2,1) rotate(-45)">Heart</text>
<line x1="516.20" y1="494.60" x2="516.20" y2="483.40" stroke="#000" stroke-width="1.6"/>
<path d="M514.10,482.50 L518.30,482.50 L517.00,484.60 L515.40,484.60 Z" fill="#000"/>
<line x1="529.60" y1="542.00" x2="529.60" y2="525.00" stroke="#000" stroke-width="1.6"/>
<path d="M527.50,524.10 L531.70,524.10 L530.40,526.20 L528.80,526.20 Z" fill="#000"/>
<rect x="510.85" y="494.60" width="10.70" height="142.00" fill="#000"/>
<rect x="524.25" y="542.00" width="10.70" height="94.60" fill="#a2a1a6"/>
<line x1="522.90" y1="636.60" x2="522.90" y2="640.10" stroke="#000" stroke-width="1.3"/>
<text x="0.00" y="0.00" font-size="9.3" font-weight="bold" text-anchor="end" transform="translate(525.40,648.90) scale(1.2,1) rotate(-45)">Liver</text>
<line x1="551.95" y1="601.60" x2="551.95" y2="595.60" stroke="#000" stroke-width="1.6"/>
<path d="M549.85,594.70 L554.05,594.70 L552.75,596.80 L551.15,596.80 Z" fill="#000"/>
<line x1="565.35" y1="622.60" x2="565.35" y2="614.40" stroke="#000" stroke-width="1.6"/>
<path d="M563.25,613.50 L567.45,613.50 L566.15,615.60 L564.55,615.60 Z" fill="#000"/>
<rect x="546.60" y="601.60" width="10.70" height="35.00" fill="#000"/>
<rect x="560.00" y="622.60" width="10.70" height="14.00" fill="#a2a1a6"/>
<line x1="558.65" y1="636.60" x2="558.65" y2="640.10" stroke="#000" stroke-width="1.3"/>
<text x="0.00" y="0.00" font-size="9.3" font-weight="bold" text-anchor="end" transform="translate(561.15,648.90) scale(1.2,1) rotate(-45)">Spleen</text>
<line x1="587.70" y1="531.60" x2="587.70" y2="518.40" stroke="#000" stroke-width="1.6"/>
<path d="M585.60,517.50 L589.80,517.50 L588.50,519.60 L586.90,519.60 Z" fill="#000"/>
<line x1="601.10" y1="590.00" x2="601.10" y2="580.40" stroke="#000" stroke-width="1.6"/>
<path d="M599.00,579.50 L603.20,579.50 L601.90,581.60 L600.30,581.60 Z" fill="#000"/>
<rect x="582.35" y="531.60" width="10.70" height="105.00" fill="#000"/>
<rect x="595.75" y="590.00" width="10.70" height="46.60" fill="#a2a1a6"/>
<line x1="594.40" y1="636.60" x2="594.40" y2="640.10" stroke="#000" stroke-width="1.3"/>
<text x="0.00" y="0.00" font-size="9.3" font-weight="bold" text-anchor="end" transform="translate(596.90,648.90) scale(1.2,1) rotate(-45)">Lung</text>
<line x1="623.45" y1="560.60" x2="623.45" y2="545.60" stroke="#000" stroke-width="1.6"/>
<path d="M621.35,544.70 L625.55,544.70 L624.25,546.80 L622.65,546.80 Z" fill="#000"/>
<line x1="636.85" y1="559.00" x2="636.85" y2="549.40" stroke="#000" stroke-width="1.6"/>
<path d="M634.75,548.50 L638.95,548.50 L637.65,550.60 L636.05,550.60 Z" fill="#000"/>
<rect x="618.10" y="560.60" width="10.70" height="76.00" fill="#000"/>
<rect x="631.50" y="559.00" width="10.70" height="77.60" fill="#a2a1a6"/>
<line x1="630.15" y1="636.60" x2="630.15" y2="640.10" stroke="#000" stroke-width="1.3"/>
<text x="0.00" y="0.00" font-size="9.3" font-weight="bold" text-anchor="end" transform="translate(632.65,648.90) scale(1.2,1) rotate(-45)">Kidney</text>
<line x1="659.20" y1="587.60" x2="659.20" y2="579.60" stroke="#000" stroke-width="1.6"/>
<path d="M657.10,578.70 L661.30,578.70 L660.00,580.80 L658.40,580.80 Z" fill="#000"/>
<line x1="672.60" y1="591.40" x2="672.60" y2="589.60" stroke="#000" stroke-width="1.6"/>
<path d="M670.50,588.70 L674.70,588.70 L673.40,590.80 L671.80,590.80 Z" fill="#000"/>
<rect x="653.85" y="587.60" width="10.70" height="49.00" fill="#000"/>
<rect x="667.25" y="591.40" width="10.70" height="45.20" fill="#a2a1a6"/>
<line x1="665.90" y1="636.60" x2="665.90" y2="640.10" stroke="#000" stroke-width="1.3"/>
<text x="0.00" y="0.00" font-size="9.3" font-weight="bold" text-anchor="end" transform="translate(668.40,648.90) scale(1.2,1) rotate(-45)">Skeletal muscle</text>
<line x1="694.95" y1="583.60" x2="694.95" y2="566.40" stroke="#000" stroke-width="1.6"/>
<path d="M692.85,565.50 L697.05,565.50 L695.75,567.60 L694.15,567.60 Z" fill="#000"/>
<line x1="708.35" y1="616.40" x2="708.35" y2="615.60" stroke="#000" stroke-width="1.6"/>
<path d="M706.25,614.70 L710.45,614.70 L709.15,616.80 L707.55,616.80 Z" fill="#000"/>
<rect x="689.60" y="583.60" width="10.70" height="53.00" fill="#000"/>
<rect x="703.00" y="616.40" width="10.70" height="20.20" fill="#a2a1a6"/>
<line x1="701.65" y1="636.60" x2="701.65" y2="640.10" stroke="#000" stroke-width="1.3"/>
<text x="0.00" y="0.00" font-size="9.3" font-weight="bold" text-anchor="end" transform="translate(704.15,648.90) scale(1.2,1) rotate(-45)">Intestine</text>
<line x1="744.10" y1="634.80" x2="744.10" y2="634.00" stroke="#000" stroke-width="1.6"/>
<path d="M742.00,633.10 L746.20,633.10 L744.90,635.20 L743.30,635.20 Z" fill="#000"/>
<rect x="725.35" y="635.40" width="10.70" height="1.20" fill="#000"/>
<rect x="738.75" y="634.80" width="10.70" height="1.80" fill="#a2a1a6"/>
<line x1="737.40" y1="636.60" x2="737.40" y2="640.10" stroke="#000" stroke-width="1.3"/>
<text x="0.00" y="0.00" font-size="9.3" font-weight="bold" text-anchor="end" transform="translate(739.90,648.90) scale(1.2,1) rotate(-45)">Thymus</text>
<line x1="766.45" y1="627.40" x2="766.45" y2="625.00" stroke="#000" stroke-width="1.6"/>
<path d="M764.35,624.10 L768.55,624.10 L767.25,626.20 L765.65,626.20 Z" fill="#000"/>
<line x1="779.85" y1="633.60" x2="779.85" y2="632.00" stroke="#000" stroke-width="1.6"/>
<path d="M777.75,631.10 L781.95,631.10 L780.65,633.20 L779.05,633.20 Z" fill="#000"/>
<rect x="761.10" y="627.40" width="10.70" height="9.20" fill="#000"/>
<rect x="774.50" y="633.60" width="10.70" height="3.00" fill="#a2a1a6"/>
<line x1="773.15" y1="636.60" x2="773.15" y2="640.10" stroke="#000" stroke-width="1.3"/>
<text x="0.00" y="0.00" font-size="9.3" font-weight="bold" text-anchor="end" transform="translate(775.65,648.90) scale(1.2,1) rotate(-45)">Blood</text>
<line x1="516.00" y1="478.60" x2="531.00" y2="478.60" stroke="#000" stroke-width="1.6"/>
<polygon points="523.50,469.80 524.32,471.47 526.16,471.73 524.83,473.03 525.15,474.87 523.50,474.00 521.85,474.87 522.17,473.03 520.84,471.73 522.68,471.47" fill="#111"/>
<line x1="550.40" y1="588.40" x2="564.40" y2="588.40" stroke="#000" stroke-width="1.6"/>
<polygon points="557.40,579.60 558.22,581.27 560.06,581.53 558.73,582.83 559.05,584.67 557.40,583.80 555.75,584.67 556.07,582.83 554.74,581.53 556.58,581.27" fill="#111"/>
<line x1="586.00" y1="510.40" x2="600.60" y2="510.40" stroke="#000" stroke-width="1.6"/>
<polygon points="589.85,501.60 590.67,503.27 592.51,503.53 591.18,504.83 591.50,506.67 589.85,505.80 588.20,506.67 588.52,504.83 587.19,503.53 589.03,503.27" fill="#111"/>
<polygon points="596.75,501.60 597.57,503.27 599.41,503.53 598.08,504.83 598.40,506.67 596.75,505.80 595.10,506.67 595.42,504.83 594.09,503.53 595.93,503.27" fill="#111"/>
<line x1="693.60" y1="560.40" x2="709.00" y2="560.40" stroke="#000" stroke-width="1.6"/>
<polygon points="697.85,551.60 698.67,553.27 700.51,553.53 699.18,554.83 699.50,556.67 697.85,555.80 696.20,556.67 696.52,554.83 695.19,553.53 697.03,553.27" fill="#111"/>
<polygon points="704.75,551.60 705.57,553.27 707.41,553.53 706.08,554.83 706.40,556.67 704.75,555.80 703.10,556.67 703.42,554.83 702.09,553.53 703.93,553.27" fill="#111"/>
<line x1="765.00" y1="620.40" x2="779.00" y2="620.40" stroke="#000" stroke-width="1.6"/>
<polygon points="772.00,611.60 772.82,613.27 774.66,613.53 773.33,614.83 773.65,616.67 772.00,615.80 770.35,616.67 770.67,614.83 769.34,613.53 771.18,613.27" fill="#111"/>
<rect x="406.00" y="449.00" width="18.00" height="6.40" fill="#000" rx="1.2"/>
<rect x="406.00" y="462.80" width="18.00" height="6.20" fill="#a2a1a6" rx="1.2"/>
<text x="0.00" y="0.00" font-size="8.5" font-weight="bold" transform="translate(432.6,455.6) scale(1.2,1)">Exo-WT-EV71</text>
<text x="0.00" y="0.00" font-size="8.5" font-weight="bold" transform="translate(432.6,469.2) scale(1.2,1)">Exo-146a<tspan font-size="6.6" dy="-3.8" letter-spacing="0.3">-/-</tspan><tspan dy="3.8" dx="0"> -EV71</tspan></text>
<text x="0.00" y="0.00" font-size="9.3" font-weight="bold" text-anchor="middle" transform="translate(379.3,547.7) scale(1.2,1) rotate(-90)">Copy number of EV71(log,per mg tissue)</text>
<text x="339.00" y="711.30" font-size="22.3" stroke="#000" stroke-width="0.8">F</text>
<line x1="393.60" y1="727.50" x2="393.60" y2="876.20" stroke="#000" stroke-width="1.3"/>
<line x1="393.00" y1="875.60" x2="728.60" y2="875.60" stroke="#000" stroke-width="1.3"/>
<line x1="390.10" y1="875.60" x2="393.60" y2="875.60" stroke="#000" stroke-width="1.3"/>
<text x="0.00" y="0.00" font-size="8.2" font-weight="bold" text-anchor="end" transform="translate(389.60,878.55) scale(1.1,1)">0.0</text>
<line x1="390.10" y1="826.40" x2="393.60" y2="826.40" stroke="#000" stroke-width="1.3"/>
<text x="0.00" y="0.00" font-size="8.2" font-weight="bold" text-anchor="end" transform="translate(389.60,829.35) scale(1.1,1)">0.5</text>
<line x1="390.10" y1="777.20" x2="393.60" y2="777.20" stroke="#000" stroke-width="1.3"/>
<text x="0.00" y="0.00" font-size="8.2" font-weight="bold" text-anchor="end" transform="translate(389.60,780.15) scale(1.1,1)">1.0</text>
<line x1="390.10" y1="728.00" x2="393.60" y2="728.00" stroke="#000" stroke-width="1.3"/>
<text x="0.00" y="0.00" font-size="8.2" font-weight="bold" text-anchor="end" transform="translate(389.60,730.95) scale(1.1,1)">1.5</text>
<line x1="403.40" y1="777.40" x2="403.40" y2="761.40" stroke="#000" stroke-width="1.5"/>
<path d="M401.60,760.50 L405.20,760.50 L404.15,762.30 L402.65,762.30 Z" fill="#000"/>
<line x1="414.80" y1="796.60" x2="414.80" y2="793.00" stroke="#000" stroke-width="1.5"/>
<path d="M413.00,792.10 L416.60,792.10 L415.55,793.90 L414.05,793.90 Z" fill="#000"/>
<rect x="399.00" y="777.40" width="8.80" height="98.20" fill="#000"/>
<rect x="410.40" y="796.60" width="8.80" height="79.00" fill="#a2a1a6"/>
<line x1="409.10" y1="875.60" x2="409.10" y2="879.10" stroke="#000" stroke-width="1.3"/>
<text x="0.00" y="0.00" font-size="8.5" font-weight="bold" text-anchor="end" transform="translate(410.60,885.90) scale(1.1,1) rotate(-45)">Brain</text>
<line x1="433.80" y1="777.40" x2="433.80" y2="754.40" stroke="#000" stroke-width="1.5"/>
<path d="M432.00,753.50 L435.60,753.50 L434.55,755.30 L433.05,755.30 Z" fill="#000"/>
<line x1="445.20" y1="770.00" x2="445.20" y2="765.40" stroke="#000" stroke-width="1.5"/>
<path d="M443.40,764.50 L447.00,764.50 L445.95,766.30 L444.45,766.30 Z" fill="#000"/>
<rect x="429.40" y="777.40" width="8.80" height="98.20" fill="#000"/>
<rect x="440.80" y="770.00" width="8.80" height="105.60" fill="#a2a1a6"/>
<line x1="439.50" y1="875.60" x2="439.50" y2="879.10" stroke="#000" stroke-width="1.3"/>
<text x="0.00" y="0.00" font-size="8.5" font-weight="bold" text-anchor="end" transform="translate(441.00,885.90) scale(1.1,1) rotate(-45)">Spinal cord</text>
<line x1="464.20" y1="777.40" x2="464.20" y2="773.40" stroke="#000" stroke-width="1.5"/>
<path d="M462.40,772.50 L466.00,772.50 L464.95,774.30 L463.45,774.30 Z" fill="#000"/>
<line x1="475.60" y1="791.40" x2="475.60" y2="784.40" stroke="#000" stroke-width="1.5"/>
<path d="M473.80,783.50 L477.40,783.50 L476.35,785.30 L474.85,785.30 Z" fill="#000"/>
<rect x="459.80" y="777.40" width="8.80" height="98.20" fill="#000"/>
<rect x="471.20" y="791.40" width="8.80" height="84.20" fill="#a2a1a6"/>
<line x1="469.90" y1="875.60" x2="469.90" y2="879.10" stroke="#000" stroke-width="1.3"/>
<text x="0.00" y="0.00" font-size="8.5" font-weight="bold" text-anchor="end" transform="translate(471.40,885.90) scale(1.1,1) rotate(-45)">Heart</text>
<line x1="494.60" y1="777.40" x2="494.60" y2="775.60" stroke="#000" stroke-width="1.5"/>
<path d="M492.80,774.70 L496.40,774.70 L495.35,776.50 L493.85,776.50 Z" fill="#000"/>
<line x1="506.00" y1="841.60" x2="506.00" y2="833.40" stroke="#000" stroke-width="1.5"/>
<path d="M504.20,832.50 L507.80,832.50 L506.75,834.30 L505.25,834.30 Z" fill="#000"/>
<rect x="490.20" y="777.40" width="8.80" height="98.20" fill="#000"/>
<rect x="501.60" y="841.60" width="8.80" height="34.00" fill="#a2a1a6"/>
<line x1="500.30" y1="875.60" x2="500.30" y2="879.10" stroke="#000" stroke-width="1.3"/>
<text x="0.00" y="0.00" font-size="8.5" font-weight="bold" text-anchor="end" transform="translate(501.80,885.90) scale(1.1,1) rotate(-45)">Liver</text>
<line x1="525.00" y1="777.40" x2="525.00" y2="771.40" stroke="#000" stroke-width="1.5"/>
<path d="M523.20,770.50 L526.80,770.50 L525.75,772.30 L524.25,772.30 Z" fill="#000"/>
<line x1="536.40" y1="830.00" x2="536.40" y2="823.60" stroke="#000" stroke-width="1.5"/>
<path d="M534.60,822.70 L538.20,822.70 L537.15,824.50 L535.65,824.50 Z" fill="#000"/>
<rect x="520.60" y="777.40" width="8.80" height="98.20" fill="#000"/>
<rect x="532.00" y="830.00" width="8.80" height="45.60" fill="#a2a1a6"/>
<line x1="530.70" y1="875.60" x2="530.70" y2="879.10" stroke="#000" stroke-width="1.3"/>
<text x="0.00" y="0.00" font-size="8.5" font-weight="bold" text-anchor="end" transform="translate(532.20,885.90) scale(1.1,1) rotate(-45)">Spleen</text>
<line x1="555.40" y1="777.40" x2="555.40" y2="766.40" stroke="#000" stroke-width="1.5"/>
<path d="M553.60,765.50 L557.20,765.50 L556.15,767.30 L554.65,767.30 Z" fill="#000"/>
<line x1="566.80" y1="843.60" x2="566.80" y2="837.60" stroke="#000" stroke-width="1.5"/>
<path d="M565.00,836.70 L568.60,836.70 L567.55,838.50 L566.05,838.50 Z" fill="#000"/>
<rect x="551.00" y="777.40" width="8.80" height="98.20" fill="#000"/>
<rect x="562.40" y="843.60" width="8.80" height="32.00" fill="#a2a1a6"/>
<line x1="561.10" y1="875.60" x2="561.10" y2="879.10" stroke="#000" stroke-width="1.3"/>
<text x="0.00" y="0.00" font-size="8.5" font-weight="bold" text-anchor="end" transform="translate(562.60,885.90) scale(1.1,1) rotate(-45)">Lung</text>
<line x1="585.80" y1="777.40" x2="585.80" y2="770.60" stroke="#000" stroke-width="1.5"/>
<path d="M584.00,769.70 L587.60,769.70 L586.55,771.50 L585.05,771.50 Z" fill="#000"/>
<line x1="597.20" y1="794.40" x2="597.20" y2="784.40" stroke="#000" stroke-width="1.5"/>
<path d="M595.40,783.50 L599.00,783.50 L597.95,785.30 L596.45,785.30 Z" fill="#000"/>
<rect x="581.40" y="777.40" width="8.80" height="98.20" fill="#000"/>
<rect x="592.80" y="794.40" width="8.80" height="81.20" fill="#a2a1a6"/>
<line x1="591.50" y1="875.60" x2="591.50" y2="879.10" stroke="#000" stroke-width="1.3"/>
<text x="0.00" y="0.00" font-size="8.5" font-weight="bold" text-anchor="end" transform="translate(593.00,885.90) scale(1.1,1) rotate(-45)">Kidney</text>
<line x1="616.20" y1="777.40" x2="616.20" y2="765.60" stroke="#000" stroke-width="1.5"/>
<path d="M614.40,764.70 L618.00,764.70 L616.95,766.50 L615.45,766.50 Z" fill="#000"/>
<line x1="627.60" y1="767.60" x2="627.60" y2="760.60" stroke="#000" stroke-width="1.5"/>
<path d="M625.80,759.70 L629.40,759.70 L628.35,761.50 L626.85,761.50 Z" fill="#000"/>
<rect x="611.80" y="777.40" width="8.80" height="98.20" fill="#000"/>
<rect x="623.20" y="767.60" width="8.80" height="108.00" fill="#a2a1a6"/>
<line x1="621.90" y1="875.60" x2="621.90" y2="879.10" stroke="#000" stroke-width="1.3"/>
<text x="0.00" y="0.00" font-size="8.5" font-weight="bold" text-anchor="end" transform="translate(623.40,885.90) scale(1.1,1) rotate(-45)">Skeletal muscle</text>
<line x1="646.60" y1="777.40" x2="646.60" y2="768.60" stroke="#000" stroke-width="1.5"/>
<path d="M644.80,767.70 L648.40,767.70 L647.35,769.50 L645.85,769.50 Z" fill="#000"/>
<line x1="658.00" y1="828.60" x2="658.00" y2="823.60" stroke="#000" stroke-width="1.5"/>
<path d="M656.20,822.70 L659.80,822.70 L658.75,824.50 L657.25,824.50 Z" fill="#000"/>
<rect x="642.20" y="777.40" width="8.80" height="98.20" fill="#000"/>
<rect x="653.60" y="828.60" width="8.80" height="47.00" fill="#a2a1a6"/>
<line x1="652.30" y1="875.60" x2="652.30" y2="879.10" stroke="#000" stroke-width="1.3"/>
<text x="0.00" y="0.00" font-size="8.5" font-weight="bold" text-anchor="end" transform="translate(653.80,885.90) scale(1.1,1) rotate(-45)">Intestine</text>
<line x1="677.00" y1="777.40" x2="677.00" y2="769.60" stroke="#000" stroke-width="1.5"/>
<path d="M675.20,768.70 L678.80,768.70 L677.75,770.50 L676.25,770.50 Z" fill="#000"/>
<line x1="688.40" y1="769.60" x2="688.40" y2="754.60" stroke="#000" stroke-width="1.5"/>
<path d="M686.60,753.70 L690.20,753.70 L689.15,755.50 L687.65,755.50 Z" fill="#000"/>
<rect x="672.60" y="777.40" width="8.80" height="98.20" fill="#000"/>
<rect x="684.00" y="769.60" width="8.80" height="106.00" fill="#a2a1a6"/>
<line x1="682.70" y1="875.60" x2="682.70" y2="879.10" stroke="#000" stroke-width="1.3"/>
<text x="0.00" y="0.00" font-size="8.5" font-weight="bold" text-anchor="end" transform="translate(684.20,885.90) scale(1.1,1) rotate(-45)">Thymus</text>
<line x1="707.40" y1="777.40" x2="707.40" y2="758.60" stroke="#000" stroke-width="1.5"/>
<path d="M705.60,757.70 L709.20,757.70 L708.15,759.50 L706.65,759.50 Z" fill="#000"/>
<line x1="718.80" y1="827.60" x2="718.80" y2="822.40" stroke="#000" stroke-width="1.5"/>
<path d="M717.00,821.50 L720.60,821.50 L719.55,823.30 L718.05,823.30 Z" fill="#000"/>
<rect x="703.00" y="777.40" width="8.80" height="98.20" fill="#000"/>
<rect x="714.40" y="827.60" width="8.80" height="48.00" fill="#a2a1a6"/>
<line x1="713.10" y1="875.60" x2="713.10" y2="879.10" stroke="#000" stroke-width="1.3"/>
<text x="0.00" y="0.00" font-size="8.5" font-weight="bold" text-anchor="end" transform="translate(714.60,885.90) scale(1.1,1) rotate(-45)">Blood</text>
<line x1="495.00" y1="767.40" x2="509.40" y2="767.40" stroke="#000" stroke-width="1.6"/>
<polygon points="499.30,759.40 500.01,760.83 501.58,761.06 500.44,762.17 500.71,763.74 499.30,763.00 497.89,763.74 498.16,762.17 497.02,761.06 498.59,760.83" fill="#111"/>
<polygon points="505.10,759.40 505.81,760.83 507.38,761.06 506.24,762.17 506.51,763.74 505.10,763.00 503.69,763.74 503.96,762.17 502.82,761.06 504.39,760.83" fill="#111"/>
<line x1="524.40" y1="768.00" x2="538.60" y2="768.00" stroke="#000" stroke-width="1.6"/>
<polygon points="531.50,760.00 532.21,761.43 533.78,761.66 532.64,762.77 532.91,764.34 531.50,763.60 530.09,764.34 530.36,762.77 529.22,761.66 530.79,761.43" fill="#111"/>
<line x1="555.40" y1="761.60" x2="569.60" y2="761.60" stroke="#000" stroke-width="1.6"/>
<polygon points="559.60,753.60 560.31,755.03 561.88,755.26 560.74,756.37 561.01,757.94 559.60,757.20 558.19,757.94 558.46,756.37 557.32,755.26 558.89,755.03" fill="#111"/>
<polygon points="565.40,753.60 566.11,755.03 567.68,755.26 566.54,756.37 566.81,757.94 565.40,757.20 563.99,757.94 564.26,756.37 563.12,755.26 564.69,755.03" fill="#111"/>
<line x1="646.60" y1="763.00" x2="661.00" y2="763.00" stroke="#000" stroke-width="1.6"/>
<polygon points="653.80,755.00 654.51,756.43 656.08,756.66 654.94,757.77 655.21,759.34 653.80,758.60 652.39,759.34 652.66,757.77 651.52,756.66 653.09,756.43" fill="#111"/>
<line x1="708.00" y1="753.60" x2="722.40" y2="753.60" stroke="#000" stroke-width="1.6"/>
<polygon points="715.20,745.60 715.91,747.03 717.48,747.26 716.34,748.37 716.61,749.94 715.20,749.20 713.79,749.94 714.06,748.37 712.92,747.26 714.49,747.03" fill="#111"/>
<rect x="402.00" y="714.40" width="14.00" height="5.20" fill="#000" rx="1.2"/>
<rect x="402.00" y="726.20" width="14.00" height="6.80" fill="#a2a1a6" rx="1.2"/>
<text x="0.00" y="0.00" font-size="7.8" font-weight="bold" transform="translate(423,719.6) scale(1.07,1)">Exo-WT-EV71</text>
<text x="0.00" y="0.00" font-size="9.2" font-weight="bold" transform="translate(423,734.6) scale(1.05,1)">Exo-146a<tspan font-size="7" dy="-4.2" letter-spacing="0.3">-/-</tspan><tspan dy="4.2" dx="0"> -EV71</tspan></text>
<text x="0.00" y="0.00" font-size="8.9" font-weight="bold" text-anchor="middle" transform="translate(370.6,801) scale(1.1,1) rotate(-90)">Relative expression of miR-146a</text>
<text x="338.00" y="955.60" font-size="23.8" stroke="#000" stroke-width="0.8">G</text>
<line x1="403.60" y1="958.10" x2="403.60" y2="1077.20" stroke="#000" stroke-width="1.3"/>
<line x1="403.00" y1="1076.60" x2="736.60" y2="1076.60" stroke="#000" stroke-width="1.3"/>
<line x1="399.20" y1="1076.60" x2="403.60" y2="1076.60" stroke="#000" stroke-width="1.3"/>
<text x="0.00" y="0.00" font-size="9.2" font-weight="bold" text-anchor="end" transform="translate(397.80,1079.91) scale(1.13,1)">0.0</text>
<line x1="399.20" y1="1037.30" x2="403.60" y2="1037.30" stroke="#000" stroke-width="1.3"/>
<text x="0.00" y="0.00" font-size="9.2" font-weight="bold" text-anchor="end" transform="translate(397.80,1040.61) scale(1.13,1)">0.5</text>
<line x1="399.20" y1="998.00" x2="403.60" y2="998.00" stroke="#000" stroke-width="1.3"/>
<text x="0.00" y="0.00" font-size="9.2" font-weight="bold" text-anchor="end" transform="translate(397.80,1001.31) scale(1.13,1)">1.0</text>
<line x1="399.20" y1="958.70" x2="403.60" y2="958.70" stroke="#000" stroke-width="1.3"/>
<text x="0.00" y="0.00" font-size="9.2" font-weight="bold" text-anchor="end" transform="translate(397.80,962.01) scale(1.13,1)">1.5</text>
<line x1="412.90" y1="998.00" x2="412.90" y2="987.00" stroke="#000" stroke-width="1.5"/>
<path d="M411.10,986.10 L414.70,986.10 L413.65,987.90 L412.15,987.90 Z" fill="#000"/>
<line x1="424.40" y1="1002.40" x2="424.40" y2="986.00" stroke="#000" stroke-width="1.5"/>
<path d="M422.60,985.10 L426.20,985.10 L425.15,986.90 L423.65,986.90 Z" fill="#000"/>
<rect x="408.40" y="998.00" width="9.00" height="78.60" fill="#000"/>
<rect x="419.90" y="1002.40" width="9.00" height="74.20" fill="#a2a1a6"/>
<line x1="418.65" y1="1076.60" x2="418.65" y2="1080.10" stroke="#000" stroke-width="1.3"/>
<text x="0.00" y="0.00" font-size="7.5" font-weight="bold" text-anchor="end" transform="translate(420.15,1085.60) scale(1.42,1) rotate(-45)">Brain</text>
<line x1="443.16" y1="998.00" x2="443.16" y2="996.40" stroke="#000" stroke-width="1.5"/>
<path d="M441.36,995.50 L444.96,995.50 L443.91,997.30 L442.41,997.30 Z" fill="#000"/>
<line x1="454.66" y1="985.60" x2="454.66" y2="984.00" stroke="#000" stroke-width="1.5"/>
<path d="M452.86,983.10 L456.46,983.10 L455.41,984.90 L453.91,984.90 Z" fill="#000"/>
<rect x="438.66" y="998.00" width="9.00" height="78.60" fill="#000"/>
<rect x="450.16" y="985.60" width="9.00" height="91.00" fill="#a2a1a6"/>
<line x1="448.91" y1="1076.60" x2="448.91" y2="1080.10" stroke="#000" stroke-width="1.3"/>
<text x="0.00" y="0.00" font-size="7.5" font-weight="bold" text-anchor="end" transform="translate(450.41,1085.60) scale(1.42,1) rotate(-45)">Spinal cord</text>
<line x1="473.42" y1="998.00" x2="473.42" y2="978.00" stroke="#000" stroke-width="1.5"/>
<path d="M471.62,977.10 L475.22,977.10 L474.17,978.90 L472.67,978.90 Z" fill="#000"/>
<line x1="484.92" y1="1013.00" x2="484.92" y2="1011.00" stroke="#000" stroke-width="1.5"/>
<path d="M483.12,1010.10 L486.72,1010.10 L485.67,1011.90 L484.17,1011.90 Z" fill="#000"/>
<rect x="468.92" y="998.00" width="9.00" height="78.60" fill="#000"/>
<rect x="480.42" y="1013.00" width="9.00" height="63.60" fill="#a2a1a6"/>
<line x1="479.17" y1="1076.60" x2="479.17" y2="1080.10" stroke="#000" stroke-width="1.3"/>
<text x="0.00" y="0.00" font-size="7.5" font-weight="bold" text-anchor="end" transform="translate(480.67,1085.60) scale(1.42,1) rotate(-45)">Heart</text>
<line x1="503.68" y1="998.00" x2="503.68" y2="992.00" stroke="#000" stroke-width="1.5"/>
<path d="M501.88,991.10 L505.48,991.10 L504.43,992.90 L502.93,992.90 Z" fill="#000"/>
<line x1="515.18" y1="1047.00" x2="515.18" y2="1040.00" stroke="#000" stroke-width="1.5"/>
<path d="M513.38,1039.10 L516.98,1039.10 L515.93,1040.90 L514.43,1040.90 Z" fill="#000"/>
<rect x="499.18" y="998.00" width="9.00" height="78.60" fill="#000"/>
<rect x="510.68" y="1047.00" width="9.00" height="29.60" fill="#a2a1a6"/>
<line x1="509.43" y1="1076.60" x2="509.43" y2="1080.10" stroke="#000" stroke-width="1.3"/>
<text x="0.00" y="0.00" font-size="7.5" font-weight="bold" text-anchor="end" transform="translate(510.93,1085.60) scale(1.42,1) rotate(-45)">Liver</text>
<line x1="533.94" y1="998.00" x2="533.94" y2="994.40" stroke="#000" stroke-width="1.5"/>
<path d="M532.14,993.50 L535.74,993.50 L534.69,995.30 L533.19,995.30 Z" fill="#000"/>
<line x1="545.44" y1="1055.60" x2="545.44" y2="1051.00" stroke="#000" stroke-width="1.5"/>
<path d="M543.64,1050.10 L547.24,1050.10 L546.19,1051.90 L544.69,1051.90 Z" fill="#000"/>
<rect x="529.44" y="998.00" width="9.00" height="78.60" fill="#000"/>
<rect x="540.94" y="1055.60" width="9.00" height="21.00" fill="#a2a1a6"/>
<line x1="539.69" y1="1076.60" x2="539.69" y2="1080.10" stroke="#000" stroke-width="1.3"/>
<text x="0.00" y="0.00" font-size="7.5" font-weight="bold" text-anchor="end" transform="translate(541.19,1085.60) scale(1.42,1) rotate(-45)">Spleen</text>
<line x1="564.20" y1="998.00" x2="564.20" y2="976.40" stroke="#000" stroke-width="1.5"/>
<path d="M562.40,975.50 L566.00,975.50 L564.95,977.30 L563.45,977.30 Z" fill="#000"/>
<line x1="575.70" y1="1035.60" x2="575.70" y2="1031.40" stroke="#000" stroke-width="1.5"/>
<path d="M573.90,1030.50 L577.50,1030.50 L576.45,1032.30 L574.95,1032.30 Z" fill="#000"/>
<rect x="559.70" y="998.00" width="9.00" height="78.60" fill="#000"/>
<rect x="571.20" y="1035.60" width="9.00" height="41.00" fill="#a2a1a6"/>
<line x1="569.95" y1="1076.60" x2="569.95" y2="1080.10" stroke="#000" stroke-width="1.3"/>
<text x="0.00" y="0.00" font-size="7.5" font-weight="bold" text-anchor="end" transform="translate(571.45,1085.60) scale(1.42,1) rotate(-45)">Lung</text>
<line x1="594.46" y1="998.00" x2="594.46" y2="975.40" stroke="#000" stroke-width="1.5"/>
<path d="M592.66,974.50 L596.26,974.50 L595.21,976.30 L593.71,976.30 Z" fill="#000"/>
<line x1="605.96" y1="1007.60" x2="605.96" y2="1003.40" stroke="#000" stroke-width="1.5"/>
<path d="M604.16,1002.50 L607.76,1002.50 L606.71,1004.30 L605.21,1004.30 Z" fill="#000"/>
<rect x="589.96" y="998.00" width="9.00" height="78.60" fill="#000"/>
<rect x="601.46" y="1007.60" width="9.00" height="69.00" fill="#a2a1a6"/>
<line x1="600.21" y1="1076.60" x2="600.21" y2="1080.10" stroke="#000" stroke-width="1.3"/>
<text x="0.00" y="0.00" font-size="7.5" font-weight="bold" text-anchor="end" transform="translate(601.71,1085.60) scale(1.42,1) rotate(-45)">Kidney</text>
<line x1="624.72" y1="998.00" x2="624.72" y2="988.40" stroke="#000" stroke-width="1.5"/>
<path d="M622.92,987.50 L626.52,987.50 L625.47,989.30 L623.97,989.30 Z" fill="#000"/>
<line x1="636.22" y1="979.40" x2="636.22" y2="977.00" stroke="#000" stroke-width="1.5"/>
<path d="M634.42,976.10 L638.02,976.10 L636.97,977.90 L635.47,977.90 Z" fill="#000"/>
<rect x="620.22" y="998.00" width="9.00" height="78.60" fill="#000"/>
<rect x="631.72" y="979.40" width="9.00" height="97.20" fill="#a2a1a6"/>
<line x1="630.47" y1="1076.60" x2="630.47" y2="1080.10" stroke="#000" stroke-width="1.3"/>
<text x="0.00" y="0.00" font-size="7.5" font-weight="bold" text-anchor="end" transform="translate(631.97,1085.60) scale(1.42,1) rotate(-45)">Skeletal muscle</text>
<line x1="654.98" y1="998.00" x2="654.98" y2="990.60" stroke="#000" stroke-width="1.5"/>
<path d="M653.18,989.70 L656.78,989.70 L655.73,991.50 L654.23,991.50 Z" fill="#000"/>
<line x1="666.48" y1="1036.60" x2="666.48" y2="1030.60" stroke="#000" stroke-width="1.5"/>
<path d="M664.68,1029.70 L668.28,1029.70 L667.23,1031.50 L665.73,1031.50 Z" fill="#000"/>
<rect x="650.48" y="998.00" width="9.00" height="78.60" fill="#000"/>
<rect x="661.98" y="1036.60" width="9.00" height="40.00" fill="#a2a1a6"/>
<line x1="660.73" y1="1076.60" x2="660.73" y2="1080.10" stroke="#000" stroke-width="1.3"/>
<text x="0.00" y="0.00" font-size="7.5" font-weight="bold" text-anchor="end" transform="translate(662.23,1085.60) scale(1.42,1) rotate(-45)">Intestine</text>
<line x1="685.24" y1="998.00" x2="685.24" y2="985.00" stroke="#000" stroke-width="1.5"/>
<path d="M683.44,984.10 L687.04,984.10 L685.99,985.90 L684.49,985.90 Z" fill="#000"/>
<line x1="696.74" y1="1002.60" x2="696.74" y2="994.60" stroke="#000" stroke-width="1.5"/>
<path d="M694.94,993.70 L698.54,993.70 L697.49,995.50 L695.99,995.50 Z" fill="#000"/>
<rect x="680.74" y="998.00" width="9.00" height="78.60" fill="#000"/>
<rect x="692.24" y="1002.60" width="9.00" height="74.00" fill="#a2a1a6"/>
<line x1="690.99" y1="1076.60" x2="690.99" y2="1080.10" stroke="#000" stroke-width="1.3"/>
<text x="0.00" y="0.00" font-size="7.5" font-weight="bold" text-anchor="end" transform="translate(692.49,1085.60) scale(1.42,1) rotate(-45)">Thymus</text>
<line x1="715.50" y1="998.00" x2="715.50" y2="984.40" stroke="#000" stroke-width="1.5"/>
<path d="M713.70,983.50 L717.30,983.50 L716.25,985.30 L714.75,985.30 Z" fill="#000"/>
<line x1="727.00" y1="1052.00" x2="727.00" y2="1045.60" stroke="#000" stroke-width="1.5"/>
<path d="M725.20,1044.70 L728.80,1044.70 L727.75,1046.50 L726.25,1046.50 Z" fill="#000"/>
<rect x="711.00" y="998.00" width="9.00" height="78.60" fill="#000"/>
<rect x="722.50" y="1052.00" width="9.00" height="24.60" fill="#a2a1a6"/>
<line x1="721.25" y1="1076.60" x2="721.25" y2="1080.10" stroke="#000" stroke-width="1.3"/>
<text x="0.00" y="0.00" font-size="7.5" font-weight="bold" text-anchor="end" transform="translate(722.75,1085.60) scale(1.42,1) rotate(-45)">Blood</text>
<line x1="503.60" y1="987.60" x2="519.40" y2="987.60" stroke="#000" stroke-width="1.6"/>
<polygon points="508.30,979.90 508.98,981.27 510.49,981.49 509.39,982.56 509.65,984.06 508.30,983.35 506.95,984.06 507.21,982.56 506.11,981.49 507.62,981.27" fill="#111"/>
<polygon points="514.70,979.90 515.38,981.27 516.89,981.49 515.79,982.56 516.05,984.06 514.70,983.35 513.35,984.06 513.61,982.56 512.51,981.49 514.02,981.27" fill="#111"/>
<line x1="533.40" y1="989.60" x2="549.40" y2="989.60" stroke="#000" stroke-width="1.6"/>
<polygon points="538.20,981.90 538.88,983.27 540.39,983.49 539.29,984.56 539.55,986.06 538.20,985.35 536.85,986.06 537.11,984.56 536.01,983.49 537.52,983.27" fill="#111"/>
<polygon points="544.60,981.90 545.28,983.27 546.79,983.49 545.69,984.56 545.95,986.06 544.60,985.35 543.25,986.06 543.51,984.56 542.41,983.49 543.92,983.27" fill="#111"/>
<line x1="563.40" y1="972.40" x2="579.00" y2="972.40" stroke="#000" stroke-width="1.6"/>
<polygon points="571.20,964.70 571.88,966.07 573.39,966.29 572.29,967.36 572.55,968.86 571.20,968.15 569.85,968.86 570.11,967.36 569.01,966.29 570.52,966.07" fill="#111"/>
<line x1="655.00" y1="986.40" x2="671.00" y2="986.40" stroke="#000" stroke-width="1.6"/>
<polygon points="663.00,978.70 663.68,980.07 665.19,980.29 664.09,981.36 664.35,982.86 663.00,982.15 661.65,982.86 661.91,981.36 660.81,980.29 662.32,980.07" fill="#111"/>
<line x1="715.00" y1="979.00" x2="730.40" y2="979.00" stroke="#000" stroke-width="1.6"/>
<polygon points="719.50,971.30 720.18,972.67 721.69,972.89 720.59,973.96 720.85,975.46 719.50,974.75 718.15,975.46 718.41,973.96 717.31,972.89 718.82,972.67" fill="#111"/>
<polygon points="725.90,971.30 726.58,972.67 728.09,972.89 726.99,973.96 727.25,975.46 725.90,974.75 724.55,975.46 724.81,973.96 723.71,972.89 725.22,972.67" fill="#111"/>
<rect x="413.60" y="942.40" width="16.40" height="4.80" fill="#000" rx="1.2"/>
<rect x="413.60" y="954.00" width="16.40" height="5.00" fill="#a2a1a6" rx="1.2"/>
<text x="0.00" y="0.00" font-size="7" font-weight="bold" transform="translate(438,947) scale(1.36,1)">Exo-WT-EV71</text>
<text x="0.00" y="0.00" font-size="7" font-weight="bold" transform="translate(438,959.5) scale(1.36,1)">Exo-146a<tspan font-size="5.4" dy="-3.2" letter-spacing="0.2">-/-</tspan><tspan dy="3.2" dx="0"> -EV71</tspan></text>
<text x="0.00" y="0.00" font-size="8.2" font-weight="bold" text-anchor="middle" transform="translate(366.4,1017.5) scale(1.2,1) rotate(-90)">Relative expression of</text>
<text x="0.00" y="0.00" font-size="8.2" font-weight="bold" text-anchor="middle" transform="translate(380.1,1017.2) scale(1.2,1) rotate(-90)">IFN-β</text>
<text x="27.20" y="718.20" font-size="24" stroke="#000" stroke-width="0.8">D</text>
<text x="102.50" y="720.00" font-size="15" stroke="#000" stroke-width="0.22">WT cells</text>
<text x="180.50" y="720.00" font-size="15" stroke="#000" stroke-width="0.22">146a<tspan font-size="11.5" dy="-6.2">-/-</tspan><tspan dy="6.2" dx="0"></tspan></text>
<text x="237.50" y="720.00" font-size="15" stroke="#000" stroke-width="0.22">cells</text>
<circle cx="133" cy="760.4" r="36.2" fill="#a3a3a3"/>
<circle cx="222.5" cy="759.6" r="36.3" fill="#a3a3a3"/>
<line x1="130.50" y1="802.50" x2="130.50" y2="842.50" stroke="#000" stroke-width="1.25"/>
<path d="M128.40,841.50 L132.60,841.50 L130.50,852.00 Z" fill="#000"/>
<line x1="224.80" y1="802.50" x2="224.80" y2="842.50" stroke="#000" stroke-width="1.25"/>
<path d="M222.70,841.50 L226.90,841.50 L224.80,852.00 Z" fill="#000"/>
<text x="31.20" y="822.80" font-size="13.1" stroke="#000" stroke-width="0.22">infect with EV71</text>
<text x="65.20" y="845.20" font-size="13.1" stroke="#000" stroke-width="0.22">24h</text>
<text x="232.00" y="821.20" font-size="13.1" stroke="#000" stroke-width="0.22">infect with EV71</text>
<text x="265.20" y="843.60" font-size="13.1" stroke="#000" stroke-width="0.22">24h</text>
<rect x="115" y="856.3" width="126" height="29.5" fill="#fff" stroke="#222" stroke-width="1"/>
<text x="129.20" y="875.20" font-size="13.2" stroke="#000" stroke-width="0.22">isolate exosomes</text>
<line x1="128.80" y1="886.00" x2="128.80" y2="931.00" stroke="#000" stroke-width="1.25"/>
<path d="M126.60,930.00 L131.00,930.00 L128.80,940.00 Z" fill="#000"/>
<line x1="224.00" y1="886.00" x2="224.00" y2="931.00" stroke="#000" stroke-width="1.25"/>
<path d="M221.80,930.00 L226.20,930.00 L224.00,940.00 Z" fill="#000"/>
<text x="149.60" y="904.00" font-size="13.4" stroke="#000" stroke-width="0.22">i.p. inject</text>
<text x="140.00" y="922.00" font-size="11.1" stroke="#000" stroke-width="0.22">(equivalent viral</text>
<text x="142.80" y="940.40" font-size="11.1" stroke="#000" stroke-width="0.22">copy numbers)</text>
<defs><linearGradient id="mg" x1="0.75" y1="0.05" x2="0.25" y2="1"><stop offset="0" stop-color="#2b2b2b"/><stop offset="0.45" stop-color="#4a4a4a"/><stop offset="1" stop-color="#b5b5b5"/></linearGradient></defs>
<g transform="translate(0,0)">
<path d="M104.5,971.2 C96,972.2 90,974.6 83.5,974.2 C78,973.9 74,974.6 70.3,977.6 C70,978.2 70.8,978.3 71.4,977.8 C75,975.8 78.5,976 83.5,976.5 C90,977 96,975 104.8,973.8 Z" fill="#e2e2e2" stroke="#444" stroke-width="0.55"/>
<path d="M104.1,972.5 C104.3,969.5 105,967 106.5,964 C108,960.5 110.5,957 114,954.5 C117.5,952.3 121,951.4 124.5,951 C127.5,950.8 130.5,951.2 133,951 C135.5,951 137,952.6 138.5,955 C140,954.2 141.5,953.5 142.8,952.8 C144,952.2 145,951.4 145.8,951.2 C147.2,952.5 147.6,955 147.2,958.5 C147.4,961.5 148.5,964.5 149.8,967.5 C150.6,969.8 151.2,972 150.9,973.4 C150.6,974.8 149.6,975.4 148.2,975.6 C146.8,976 145.8,976.4 145.2,977.1 C144.6,978.3 143.2,978.5 142.3,977.6 C141,977.3 139.5,978 138.3,978.6 C138.9,979.4 139,980.6 137.8,980.9 C135.6,981.1 133.6,981 132.3,980.7 C131.3,980.3 130.7,979.2 129.8,978.4 C126.5,978 123.5,977.5 120.6,977.4 C118.5,977.6 116.5,978.3 115.6,979.3 C115.4,980.3 114.8,981 113.7,980.9 C112,980.8 110.2,980.3 109.3,979.4 C108.3,978.5 107.6,977.5 107,976.3 C105.6,975.2 104.5,974 104.1,972.5 Z" fill="url(#mg)" stroke="#222" stroke-width="0.5"/>
<path d="M130,952.8 C131.5,951.2 134.5,951.6 136,953.5 C137.2,955.2 136.8,957.5 135.5,958.8 C134,960.2 131.5,960.2 130.4,958.6 C129.4,957 129.2,954.3 130,952.8 Z" fill="#c8c8c8" stroke="#333" stroke-width="0.4"/>
<path d="M145.6,952 C146.6,953.5 147,955.5 146.8,957.6 C146,957.8 145.4,957 145.2,955.5 C145,954.2 145.1,953 145.6,952 Z" fill="#c8c8c8"/>
<circle cx="141.3" cy="966" r="1.35" fill="#111"/><circle cx="141.7" cy="965.6" r="0.35" fill="#aaa"/>
<path d="M128,970.6 L140.5,969.8 M127.6,971.9 L141,971.3" stroke="#555" stroke-width="0.45" fill="none"/>
<path d="M108.6,978.8 L114.5,980.5 M132.5,980.3 L137.8,980.4 M142.4,977.6 L145,978.2" stroke="#999" stroke-width="0.6" fill="none"/>
</g>
<g transform="translate(100,0)">
<path d="M104.5,971.2 C96,972.2 90,974.6 83.5,974.2 C78,973.9 74,974.6 70.3,977.6 C70,978.2 70.8,978.3 71.4,977.8 C75,975.8 78.5,976 83.5,976.5 C90,977 96,975 104.8,973.8 Z" fill="#e2e2e2" stroke="#444" stroke-width="0.55"/>
<path d="M104.1,972.5 C104.3,969.5 105,967 106.5,964 C108,960.5 110.5,957 114,954.5 C117.5,952.3 121,951.4 124.5,951 C127.5,950.8 130.5,951.2 133,951 C135.5,951 137,952.6 138.5,955 C140,954.2 141.5,953.5 142.8,952.8 C144,952.2 145,951.4 145.8,951.2 C147.2,952.5 147.6,955 147.2,958.5 C147.4,961.5 148.5,964.5 149.8,967.5 C150.6,969.8 151.2,972 150.9,973.4 C150.6,974.8 149.6,975.4 148.2,975.6 C146.8,976 145.8,976.4 145.2,977.1 C144.6,978.3 143.2,978.5 142.3,977.6 C141,977.3 139.5,978 138.3,978.6 C138.9,979.4 139,980.6 137.8,980.9 C135.6,981.1 133.6,981 132.3,980.7 C131.3,980.3 130.7,979.2 129.8,978.4 C126.5,978 123.5,977.5 120.6,977.4 C118.5,977.6 116.5,978.3 115.6,979.3 C115.4,980.3 114.8,981 113.7,980.9 C112,980.8 110.2,980.3 109.3,979.4 C108.3,978.5 107.6,977.5 107,976.3 C105.6,975.2 104.5,974 104.1,972.5 Z" fill="url(#mg)" stroke="#222" stroke-width="0.5"/>
<path d="M130,952.8 C131.5,951.2 134.5,951.6 136,953.5 C137.2,955.2 136.8,957.5 135.5,958.8 C134,960.2 131.5,960.2 130.4,958.6 C129.4,957 129.2,954.3 130,952.8 Z" fill="#c8c8c8" stroke="#333" stroke-width="0.4"/>
<path d="M145.6,952 C146.6,953.5 147,955.5 146.8,957.6 C146,957.8 145.4,957 145.2,955.5 C145,954.2 145.1,953 145.6,952 Z" fill="#c8c8c8"/>
<circle cx="141.3" cy="966" r="1.35" fill="#111"/><circle cx="141.7" cy="965.6" r="0.35" fill="#aaa"/>
<path d="M128,970.6 L140.5,969.8 M127.6,971.9 L141,971.3" stroke="#555" stroke-width="0.45" fill="none"/>
<path d="M108.6,978.8 L114.5,980.5 M132.5,980.3 L137.8,980.4 M142.4,977.6 L145,978.2" stroke="#999" stroke-width="0.6" fill="none"/>
</g>
</svg>
</body></html>
